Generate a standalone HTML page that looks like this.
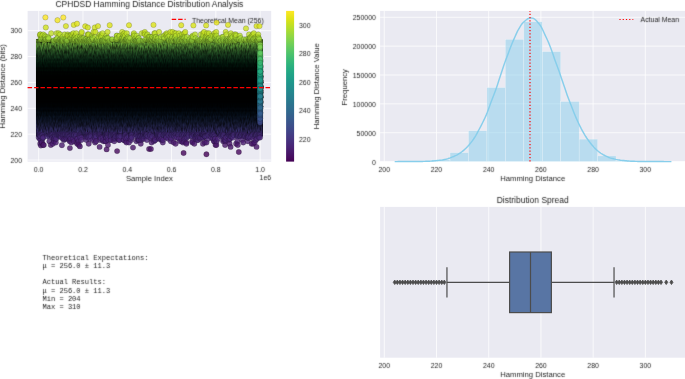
<!DOCTYPE html>
<html><head><meta charset="utf-8"><style>
html,body{margin:0;padding:0;background:#fff;width:685px;height:379px;overflow:hidden}
svg{display:block;will-change:transform}

</style></head><body>
<svg width="685" height="379" viewBox="0 0 685 379">
<rect x="27.6" y="10.9" width="243.6" height="150.8" fill="#eaeaf2"/>
<line x1="38.67" y1="10.9" x2="38.67" y2="161.7" stroke="#fff" stroke-width="0.75"/>
<line x1="82.96" y1="10.9" x2="82.96" y2="161.7" stroke="#fff" stroke-width="0.75"/>
<line x1="127.25" y1="10.9" x2="127.25" y2="161.7" stroke="#fff" stroke-width="0.75"/>
<line x1="171.55" y1="10.9" x2="171.55" y2="161.7" stroke="#fff" stroke-width="0.75"/>
<line x1="215.84" y1="10.9" x2="215.84" y2="161.7" stroke="#fff" stroke-width="0.75"/>
<line x1="260.13" y1="10.9" x2="260.13" y2="161.7" stroke="#fff" stroke-width="0.75"/>
<line x1="27.6" y1="160.02" x2="271.2" y2="160.02" stroke="#fff" stroke-width="0.75"/>
<line x1="27.6" y1="134.15" x2="271.2" y2="134.15" stroke="#fff" stroke-width="0.75"/>
<line x1="27.6" y1="108.29" x2="271.2" y2="108.29" stroke="#fff" stroke-width="0.75"/>
<line x1="27.6" y1="82.42" x2="271.2" y2="82.42" stroke="#fff" stroke-width="0.75"/>
<line x1="27.6" y1="56.55" x2="271.2" y2="56.55" stroke="#fff" stroke-width="0.75"/>
<line x1="27.6" y1="30.69" x2="271.2" y2="30.69" stroke="#fff" stroke-width="0.75"/>
<defs><linearGradient id="core" x1="0" y1="0" x2="0" y2="1"><stop offset="0.0050" stop-color="#000000" stop-opacity="0.017"/><stop offset="0.0150" stop-color="#5d8929" stop-opacity="0.631"/><stop offset="0.0250" stop-color="#68992e" stop-opacity="0.956"/><stop offset="0.0350" stop-color="#699b30" stop-opacity="0.997"/><stop offset="0.0450" stop-color="#5e8d2c" stop-opacity="1.000"/><stop offset="0.0550" stop-color="#51812f" stop-opacity="1.000"/><stop offset="0.0650" stop-color="#4c7929" stop-opacity="1.000"/><stop offset="0.0750" stop-color="#436f27" stop-opacity="1.000"/><stop offset="0.0850" stop-color="#3c6626" stop-opacity="1.000"/><stop offset="0.0950" stop-color="#355e24" stop-opacity="1.000"/><stop offset="0.1050" stop-color="#2e5522" stop-opacity="1.000"/><stop offset="0.1150" stop-color="#2a4f20" stop-opacity="1.000"/><stop offset="0.1250" stop-color="#24481e" stop-opacity="1.000"/><stop offset="0.1350" stop-color="#1f401c" stop-opacity="1.000"/><stop offset="0.1450" stop-color="#1b3b1a" stop-opacity="1.000"/><stop offset="0.1550" stop-color="#18381a" stop-opacity="1.000"/><stop offset="0.1650" stop-color="#153218" stop-opacity="1.000"/><stop offset="0.1750" stop-color="#112c15" stop-opacity="1.000"/><stop offset="0.1850" stop-color="#0f2914" stop-opacity="1.000"/><stop offset="0.1950" stop-color="#0d2814" stop-opacity="1.000"/><stop offset="0.2050" stop-color="#0b2312" stop-opacity="1.000"/><stop offset="0.2150" stop-color="#071d0f" stop-opacity="1.000"/><stop offset="0.2250" stop-color="#061b0e" stop-opacity="1.000"/><stop offset="0.2350" stop-color="#061b0e" stop-opacity="1.000"/><stop offset="0.2450" stop-color="#04170c" stop-opacity="1.000"/><stop offset="0.2550" stop-color="#021209" stop-opacity="1.000"/><stop offset="0.2650" stop-color="#010f08" stop-opacity="1.000"/><stop offset="0.2750" stop-color="#010f08" stop-opacity="1.000"/><stop offset="0.2850" stop-color="#010e08" stop-opacity="1.000"/><stop offset="0.2950" stop-color="#000904" stop-opacity="1.000"/><stop offset="0.3050" stop-color="#000602" stop-opacity="1.000"/><stop offset="0.3150" stop-color="#000604" stop-opacity="1.000"/><stop offset="0.3250" stop-color="#000703" stop-opacity="1.000"/><stop offset="0.3350" stop-color="#000302" stop-opacity="1.000"/><stop offset="0.3450" stop-color="#000201" stop-opacity="1.000"/><stop offset="0.3550" stop-color="#000301" stop-opacity="1.000"/><stop offset="0.3650" stop-color="#000201" stop-opacity="1.000"/><stop offset="0.3750" stop-color="#000101" stop-opacity="1.000"/><stop offset="0.3850" stop-color="#000100" stop-opacity="1.000"/><stop offset="0.3950" stop-color="#000100" stop-opacity="1.000"/><stop offset="0.4050" stop-color="#000100" stop-opacity="1.000"/><stop offset="0.4150" stop-color="#000000" stop-opacity="1.000"/><stop offset="0.4250" stop-color="#000000" stop-opacity="1.000"/><stop offset="0.4350" stop-color="#000000" stop-opacity="1.000"/><stop offset="0.4450" stop-color="#000000" stop-opacity="1.000"/><stop offset="0.4550" stop-color="#000000" stop-opacity="1.000"/><stop offset="0.4650" stop-color="#000000" stop-opacity="1.000"/><stop offset="0.4750" stop-color="#000000" stop-opacity="1.000"/><stop offset="0.4850" stop-color="#000000" stop-opacity="1.000"/><stop offset="0.4950" stop-color="#000000" stop-opacity="1.000"/><stop offset="0.5050" stop-color="#000000" stop-opacity="1.000"/><stop offset="0.5150" stop-color="#000000" stop-opacity="1.000"/><stop offset="0.5250" stop-color="#000000" stop-opacity="1.000"/><stop offset="0.5350" stop-color="#000000" stop-opacity="1.000"/><stop offset="0.5450" stop-color="#000000" stop-opacity="1.000"/><stop offset="0.5550" stop-color="#000000" stop-opacity="1.000"/><stop offset="0.5650" stop-color="#000000" stop-opacity="1.000"/><stop offset="0.5750" stop-color="#000000" stop-opacity="1.000"/><stop offset="0.5850" stop-color="#000000" stop-opacity="1.000"/><stop offset="0.5950" stop-color="#000000" stop-opacity="1.000"/><stop offset="0.6050" stop-color="#000000" stop-opacity="1.000"/><stop offset="0.6150" stop-color="#000001" stop-opacity="1.000"/><stop offset="0.6250" stop-color="#000101" stop-opacity="1.000"/><stop offset="0.6350" stop-color="#000001" stop-opacity="1.000"/><stop offset="0.6450" stop-color="#000101" stop-opacity="1.000"/><stop offset="0.6550" stop-color="#000103" stop-opacity="1.000"/><stop offset="0.6650" stop-color="#000203" stop-opacity="1.000"/><stop offset="0.6750" stop-color="#000203" stop-opacity="1.000"/><stop offset="0.6850" stop-color="#000204" stop-opacity="1.000"/><stop offset="0.6950" stop-color="#000306" stop-opacity="1.000"/><stop offset="0.7050" stop-color="#010509" stop-opacity="1.000"/><stop offset="0.7150" stop-color="#010509" stop-opacity="1.000"/><stop offset="0.7250" stop-color="#000409" stop-opacity="1.000"/><stop offset="0.7350" stop-color="#02060b" stop-opacity="1.000"/><stop offset="0.7450" stop-color="#030910" stop-opacity="1.000"/><stop offset="0.7550" stop-color="#030910" stop-opacity="1.000"/><stop offset="0.7650" stop-color="#030911" stop-opacity="1.000"/><stop offset="0.7750" stop-color="#050a13" stop-opacity="1.000"/><stop offset="0.7850" stop-color="#070e18" stop-opacity="1.000"/><stop offset="0.7950" stop-color="#080e1a" stop-opacity="1.000"/><stop offset="0.8050" stop-color="#080e1a" stop-opacity="1.000"/><stop offset="0.8150" stop-color="#0a0f1c" stop-opacity="1.000"/><stop offset="0.8250" stop-color="#0c1121" stop-opacity="1.000"/><stop offset="0.8350" stop-color="#0e1324" stop-opacity="1.000"/><stop offset="0.8450" stop-color="#0f1325" stop-opacity="1.000"/><stop offset="0.8550" stop-color="#111428" stop-opacity="1.000"/><stop offset="0.8650" stop-color="#13162c" stop-opacity="1.000"/><stop offset="0.8750" stop-color="#161730" stop-opacity="1.000"/><stop offset="0.8850" stop-color="#181833" stop-opacity="1.000"/><stop offset="0.8950" stop-color="#1b1a38" stop-opacity="1.000"/><stop offset="0.9050" stop-color="#1e1c3d" stop-opacity="1.000"/><stop offset="0.9150" stop-color="#211d42" stop-opacity="1.000"/><stop offset="0.9250" stop-color="#241e47" stop-opacity="1.000"/><stop offset="0.9350" stop-color="#271f4b" stop-opacity="1.000"/><stop offset="0.9450" stop-color="#2b204f" stop-opacity="1.000"/><stop offset="0.9550" stop-color="#2f2357" stop-opacity="1.000"/><stop offset="0.9650" stop-color="#31235a" stop-opacity="0.997"/><stop offset="0.9750" stop-color="#33245d" stop-opacity="0.928"/><stop offset="0.9850" stop-color="#231941" stop-opacity="0.368"/><stop offset="0.9950" stop-color="#0f0a1c" stop-opacity="0.040"/></linearGradient>
<linearGradient id="cbar" x1="0" y1="0" x2="0" y2="1"><stop offset="0.0000" stop-color="#fde725"/><stop offset="0.0156" stop-color="#f6e620"/><stop offset="0.0312" stop-color="#ece51b"/><stop offset="0.0469" stop-color="#e2e418"/><stop offset="0.0625" stop-color="#d8e219"/><stop offset="0.0781" stop-color="#cde11d"/><stop offset="0.0938" stop-color="#c2df23"/><stop offset="0.1094" stop-color="#b8de29"/><stop offset="0.1250" stop-color="#addc30"/><stop offset="0.1406" stop-color="#a2da37"/><stop offset="0.1562" stop-color="#98d83e"/><stop offset="0.1719" stop-color="#8ed645"/><stop offset="0.1875" stop-color="#84d44b"/><stop offset="0.2031" stop-color="#7ad151"/><stop offset="0.2188" stop-color="#70cf57"/><stop offset="0.2344" stop-color="#67cc5c"/><stop offset="0.2500" stop-color="#5ec962"/><stop offset="0.2656" stop-color="#56c667"/><stop offset="0.2812" stop-color="#4ec36b"/><stop offset="0.2969" stop-color="#46c06f"/><stop offset="0.3125" stop-color="#3fbc73"/><stop offset="0.3281" stop-color="#38b977"/><stop offset="0.3438" stop-color="#32b67a"/><stop offset="0.3594" stop-color="#2db27d"/><stop offset="0.3750" stop-color="#28ae80"/><stop offset="0.3906" stop-color="#25ab82"/><stop offset="0.4062" stop-color="#22a785"/><stop offset="0.4219" stop-color="#20a386"/><stop offset="0.4375" stop-color="#1fa088"/><stop offset="0.4531" stop-color="#1e9c89"/><stop offset="0.4688" stop-color="#1f988b"/><stop offset="0.4844" stop-color="#1f948c"/><stop offset="0.5000" stop-color="#21918c"/><stop offset="0.5156" stop-color="#228d8d"/><stop offset="0.5312" stop-color="#23898e"/><stop offset="0.5469" stop-color="#25858e"/><stop offset="0.5625" stop-color="#26828e"/><stop offset="0.5781" stop-color="#277e8e"/><stop offset="0.5938" stop-color="#297a8e"/><stop offset="0.6094" stop-color="#2a768e"/><stop offset="0.6250" stop-color="#2c728e"/><stop offset="0.6406" stop-color="#2e6f8e"/><stop offset="0.6562" stop-color="#2f6b8e"/><stop offset="0.6719" stop-color="#31678e"/><stop offset="0.6875" stop-color="#33638d"/><stop offset="0.7031" stop-color="#355f8d"/><stop offset="0.7188" stop-color="#375b8d"/><stop offset="0.7344" stop-color="#39568c"/><stop offset="0.7500" stop-color="#3b528b"/><stop offset="0.7656" stop-color="#3d4e8a"/><stop offset="0.7812" stop-color="#3e4989"/><stop offset="0.7969" stop-color="#404588"/><stop offset="0.8125" stop-color="#424086"/><stop offset="0.8281" stop-color="#443b84"/><stop offset="0.8438" stop-color="#453781"/><stop offset="0.8594" stop-color="#46327e"/><stop offset="0.8750" stop-color="#472d7b"/><stop offset="0.8906" stop-color="#482878"/><stop offset="0.9062" stop-color="#482374"/><stop offset="0.9219" stop-color="#481d6f"/><stop offset="0.9375" stop-color="#48186a"/><stop offset="0.9531" stop-color="#471365"/><stop offset="0.9688" stop-color="#470d60"/><stop offset="0.9844" stop-color="#46075a"/><stop offset="1.0000" stop-color="#440154"/></linearGradient><filter id="tb" filterUnits="userSpaceOnUse" x="0" y="0" width="685" height="379"><feConvolveMatrix order="3" kernelMatrix="0.0113 0.0838 0.0113 0.0838 0.6193 0.0838 0.0113 0.0838 0.0113" divisor="1" edgeMode="none"/></filter></defs>
<filter id="tex" filterUnits="userSpaceOnUse" x="35.98" y="38" width="226.66" height="100" color-interpolation-filters="sRGB"><feTurbulence type="fractalNoise" baseFrequency="0.8 0.22" numOctaves="2" seed="7" result="n"/><feColorMatrix in="n" type="matrix" values="1 0 0 0 0 1 0 0 0 0 1 0 0 0 0 0 0 0 0 1" result="g"/><feComposite in="SourceGraphic" in2="g" operator="arithmetic" k1="1.6" k2="0.19999999999999996" k3="0" k4="0"/></filter>
<rect x="35.98" y="38" width="226.66" height="100" fill="url(#core)" filter="url(#tex)"/>
<line x1="171.7" y1="19.4" x2="185.6" y2="19.4" stroke="#ff0000" stroke-width="1.215" stroke-dasharray="4.49 1.94"/>
<g font-family="Liberation Sans, sans-serif" fill="#262626" filter="url(#tb)"><text x="192" y="22.75" font-size="6.94" text-anchor="start">Theoretical Mean (256)</text></g>
<g fill-opacity="0.8" stroke="#000" stroke-width="0.21" stroke-opacity="0.8"><circle cx="38.71" cy="137.52" r="2.69" fill="#482878"/><circle cx="39.48" cy="135.02" r="2.69" fill="#472e7c"/><circle cx="39.56" cy="135.02" r="2.69" fill="#472e7c"/><circle cx="39.81" cy="138.76" r="2.69" fill="#482576"/><circle cx="40.05" cy="34.48" r="2.69" fill="#bade28"/><circle cx="40.17" cy="135.02" r="2.69" fill="#472e7c"/><circle cx="40.19" cy="136.27" r="2.69" fill="#472c7a"/><circle cx="40.21" cy="143.76" r="2.69" fill="#48186a"/><circle cx="40.24" cy="35.72" r="2.69" fill="#b5de2b"/><circle cx="40.37" cy="34.48" r="2.69" fill="#bade28"/><circle cx="40.46" cy="39.42" r="2.69" fill="#a0da39"/><circle cx="40.54" cy="140.01" r="2.69" fill="#482374"/><circle cx="40.83" cy="136.27" r="2.69" fill="#472c7a"/><circle cx="40.9" cy="145.5" r="2.69" fill="#481a6c"/><circle cx="41.25" cy="39.42" r="2.69" fill="#a0da39"/><circle cx="41.55" cy="39.42" r="2.69" fill="#a0da39"/><circle cx="41.81" cy="142.51" r="2.69" fill="#481c6e"/><circle cx="41.89" cy="142.51" r="2.69" fill="#481c6e"/><circle cx="41.99" cy="35.72" r="2.69" fill="#b5de2b"/><circle cx="42.29" cy="135.02" r="2.69" fill="#472e7c"/><circle cx="42.6" cy="138.76" r="2.69" fill="#482576"/><circle cx="42.79" cy="137.52" r="2.69" fill="#482878"/><circle cx="43.14" cy="145" r="2.69" fill="#481668"/><circle cx="43.15" cy="137.52" r="2.69" fill="#482878"/><circle cx="43.3" cy="34.48" r="2.69" fill="#bade28"/><circle cx="43.31" cy="39.42" r="2.69" fill="#a0da39"/><circle cx="43.8" cy="145" r="2.69" fill="#481668"/><circle cx="44.54" cy="40.66" r="2.69" fill="#9bd93c"/><circle cx="44.82" cy="35.72" r="2.69" fill="#b5de2b"/><circle cx="44.85" cy="39.42" r="2.69" fill="#a0da39"/><circle cx="44.86" cy="40.66" r="2.69" fill="#9bd93c"/><circle cx="44.92" cy="38.19" r="2.69" fill="#a8db34"/><circle cx="45.29" cy="36.95" r="2.69" fill="#addc30"/><circle cx="45.4" cy="39.42" r="2.69" fill="#a0da39"/><circle cx="45.4" cy="17.4" r="2.69" fill="#fde725"/><circle cx="45.8" cy="27.5" r="2.69" fill="#d0e11c"/><circle cx="45.84" cy="39.42" r="2.69" fill="#a0da39"/><circle cx="46.53" cy="39.42" r="2.69" fill="#a0da39"/><circle cx="47.16" cy="136.27" r="2.69" fill="#472c7a"/><circle cx="47.96" cy="36.95" r="2.69" fill="#addc30"/><circle cx="47.99" cy="39.42" r="2.69" fill="#a0da39"/><circle cx="48.55" cy="39.42" r="2.69" fill="#a0da39"/><circle cx="48.66" cy="38.19" r="2.69" fill="#a8db34"/><circle cx="49.39" cy="141.26" r="2.69" fill="#481f70"/><circle cx="49.56" cy="136.27" r="2.69" fill="#472c7a"/><circle cx="50.22" cy="135.02" r="2.69" fill="#472e7c"/><circle cx="50.84" cy="145" r="2.69" fill="#481668"/><circle cx="51.18" cy="33.25" r="2.69" fill="#c0df25"/><circle cx="51.18" cy="135.02" r="2.69" fill="#472e7c"/><circle cx="51.75" cy="135.02" r="2.69" fill="#472e7c"/><circle cx="52.43" cy="135.02" r="2.69" fill="#472e7c"/><circle cx="52.54" cy="137.52" r="2.69" fill="#482878"/><circle cx="52.8" cy="143.8" r="2.69" fill="#481d6f"/><circle cx="53.32" cy="40.66" r="2.69" fill="#9bd93c"/><circle cx="53.75" cy="140.01" r="2.69" fill="#482374"/><circle cx="53.8" cy="40.66" r="2.69" fill="#9bd93c"/><circle cx="53.93" cy="136.27" r="2.69" fill="#472c7a"/><circle cx="54.09" cy="138.76" r="2.69" fill="#482576"/><circle cx="54.14" cy="141.26" r="2.69" fill="#481f70"/><circle cx="54.5" cy="138.76" r="2.69" fill="#482576"/><circle cx="54.98" cy="135.02" r="2.69" fill="#472e7c"/><circle cx="55.47" cy="138.76" r="2.69" fill="#482576"/><circle cx="55.58" cy="136.27" r="2.69" fill="#472c7a"/><circle cx="55.82" cy="142.51" r="2.69" fill="#481c6e"/><circle cx="56.1" cy="39.42" r="2.69" fill="#a0da39"/><circle cx="56.33" cy="138.76" r="2.69" fill="#482576"/><circle cx="56.64" cy="33.25" r="2.69" fill="#c0df25"/><circle cx="56.72" cy="39.42" r="2.69" fill="#a0da39"/><circle cx="57.18" cy="135.02" r="2.69" fill="#472e7c"/><circle cx="57.46" cy="38.19" r="2.69" fill="#a8db34"/><circle cx="57.5" cy="20.2" r="2.69" fill="#f4e61e"/><circle cx="57.9" cy="135.02" r="2.69" fill="#472e7c"/><circle cx="58.6" cy="33.25" r="2.69" fill="#c0df25"/><circle cx="58.63" cy="40.66" r="2.69" fill="#9bd93c"/><circle cx="58.72" cy="135.02" r="2.69" fill="#472e7c"/><circle cx="59.1" cy="135.02" r="2.69" fill="#472e7c"/><circle cx="59.45" cy="40.66" r="2.69" fill="#9bd93c"/><circle cx="59.77" cy="136.27" r="2.69" fill="#472c7a"/><circle cx="59.86" cy="135.02" r="2.69" fill="#472e7c"/><circle cx="59.9" cy="39.42" r="2.69" fill="#a0da39"/><circle cx="60.09" cy="34.48" r="2.69" fill="#bade28"/><circle cx="60.56" cy="136.27" r="2.69" fill="#472c7a"/><circle cx="60.59" cy="39.42" r="2.69" fill="#a0da39"/><circle cx="60.99" cy="136.27" r="2.69" fill="#472c7a"/><circle cx="61.11" cy="135.02" r="2.69" fill="#472e7c"/><circle cx="61.36" cy="40.66" r="2.69" fill="#9bd93c"/><circle cx="61.37" cy="137.52" r="2.69" fill="#482878"/><circle cx="61.79" cy="39.42" r="2.69" fill="#a0da39"/><circle cx="61.9" cy="40.66" r="2.69" fill="#9bd93c"/><circle cx="61.9" cy="145.2" r="2.69" fill="#481b6d"/><circle cx="62.06" cy="40.66" r="2.69" fill="#9bd93c"/><circle cx="62.36" cy="40.66" r="2.69" fill="#9bd93c"/><circle cx="62.63" cy="36.95" r="2.69" fill="#addc30"/><circle cx="62.67" cy="135.02" r="2.69" fill="#472e7c"/><circle cx="62.92" cy="138.76" r="2.69" fill="#482576"/><circle cx="62.97" cy="39.42" r="2.69" fill="#a0da39"/><circle cx="63.06" cy="40.66" r="2.69" fill="#9bd93c"/><circle cx="63.3" cy="17.5" r="2.69" fill="#fde725"/><circle cx="63.38" cy="135.02" r="2.69" fill="#472e7c"/><circle cx="63.89" cy="140.01" r="2.69" fill="#482374"/><circle cx="64.19" cy="138.76" r="2.69" fill="#482576"/><circle cx="64.49" cy="135.02" r="2.69" fill="#472e7c"/><circle cx="64.63" cy="34.48" r="2.69" fill="#bade28"/><circle cx="65" cy="39.42" r="2.69" fill="#a0da39"/><circle cx="65.06" cy="135.02" r="2.69" fill="#472e7c"/><circle cx="65.11" cy="138.76" r="2.69" fill="#482576"/><circle cx="65.87" cy="40.66" r="2.69" fill="#9bd93c"/><circle cx="65.9" cy="26.1" r="2.69" fill="#d8e219"/><circle cx="65.98" cy="39.42" r="2.69" fill="#a0da39"/><circle cx="66.08" cy="137.52" r="2.69" fill="#482878"/><circle cx="66.56" cy="137.52" r="2.69" fill="#482878"/><circle cx="66.61" cy="136.27" r="2.69" fill="#472c7a"/><circle cx="66.69" cy="40.66" r="2.69" fill="#9bd93c"/><circle cx="66.76" cy="138.76" r="2.69" fill="#482576"/><circle cx="66.82" cy="135.02" r="2.69" fill="#472e7c"/><circle cx="67.05" cy="40.66" r="2.69" fill="#9bd93c"/><circle cx="67.5" cy="35.72" r="2.69" fill="#b5de2b"/><circle cx="67.6" cy="34.48" r="2.69" fill="#bade28"/><circle cx="67.8" cy="136.27" r="2.69" fill="#472c7a"/><circle cx="67.88" cy="135.02" r="2.69" fill="#472e7c"/><circle cx="67.9" cy="35.72" r="2.69" fill="#b5de2b"/><circle cx="68.72" cy="138.76" r="2.69" fill="#482576"/><circle cx="69.06" cy="136.27" r="2.69" fill="#472c7a"/><circle cx="69.62" cy="35.72" r="2.69" fill="#b5de2b"/><circle cx="69.64" cy="140.01" r="2.69" fill="#482374"/><circle cx="69.69" cy="141.26" r="2.69" fill="#481f70"/><circle cx="69.9" cy="148.1" r="2.69" fill="#471365"/><circle cx="69.98" cy="136.27" r="2.69" fill="#472c7a"/><circle cx="70.37" cy="138.76" r="2.69" fill="#482576"/><circle cx="70.61" cy="38.19" r="2.69" fill="#a8db34"/><circle cx="70.69" cy="38.19" r="2.69" fill="#a8db34"/><circle cx="70.84" cy="35.72" r="2.69" fill="#b5de2b"/><circle cx="70.93" cy="138.76" r="2.69" fill="#482576"/><circle cx="71.36" cy="142.51" r="2.69" fill="#481c6e"/><circle cx="71.7" cy="34.48" r="2.69" fill="#bade28"/><circle cx="71.72" cy="135.02" r="2.69" fill="#472e7c"/><circle cx="71.84" cy="38.19" r="2.69" fill="#a8db34"/><circle cx="72.52" cy="35.72" r="2.69" fill="#b5de2b"/><circle cx="72.67" cy="40.66" r="2.69" fill="#9bd93c"/><circle cx="72.68" cy="138.76" r="2.69" fill="#482576"/><circle cx="72.78" cy="39.42" r="2.69" fill="#a0da39"/><circle cx="73.31" cy="135.02" r="2.69" fill="#472e7c"/><circle cx="73.42" cy="33.25" r="2.69" fill="#c0df25"/><circle cx="73.58" cy="138.76" r="2.69" fill="#482576"/><circle cx="73.8" cy="24.9" r="2.69" fill="#dde318"/><circle cx="73.91" cy="39.42" r="2.69" fill="#a0da39"/><circle cx="73.95" cy="141.26" r="2.69" fill="#481f70"/><circle cx="74.01" cy="135.02" r="2.69" fill="#472e7c"/><circle cx="74.15" cy="40.66" r="2.69" fill="#9bd93c"/><circle cx="74.16" cy="135.02" r="2.69" fill="#472e7c"/><circle cx="74.23" cy="39.42" r="2.69" fill="#a0da39"/><circle cx="74.47" cy="36.95" r="2.69" fill="#addc30"/><circle cx="74.72" cy="36.95" r="2.69" fill="#addc30"/><circle cx="75.04" cy="39.42" r="2.69" fill="#a0da39"/><circle cx="75.31" cy="35.72" r="2.69" fill="#b5de2b"/><circle cx="75.76" cy="136.27" r="2.69" fill="#472c7a"/><circle cx="75.77" cy="35.72" r="2.69" fill="#b5de2b"/><circle cx="76.04" cy="135.02" r="2.69" fill="#472e7c"/><circle cx="76.24" cy="33.25" r="2.69" fill="#c0df25"/><circle cx="76.58" cy="38.19" r="2.69" fill="#a8db34"/><circle cx="76.82" cy="142.51" r="2.69" fill="#481c6e"/><circle cx="77" cy="23.7" r="2.69" fill="#e2e418"/><circle cx="77.04" cy="138.76" r="2.69" fill="#482576"/><circle cx="77.21" cy="143.76" r="2.69" fill="#48186a"/><circle cx="77.5" cy="40.66" r="2.69" fill="#9bd93c"/><circle cx="77.53" cy="40.66" r="2.69" fill="#9bd93c"/><circle cx="77.62" cy="39.42" r="2.69" fill="#a0da39"/><circle cx="77.71" cy="138.76" r="2.69" fill="#482576"/><circle cx="77.73" cy="36.95" r="2.69" fill="#addc30"/><circle cx="77.99" cy="40.66" r="2.69" fill="#9bd93c"/><circle cx="78.54" cy="40.66" r="2.69" fill="#9bd93c"/><circle cx="78.59" cy="141.26" r="2.69" fill="#481f70"/><circle cx="78.86" cy="145" r="2.69" fill="#481668"/><circle cx="79.55" cy="38.19" r="2.69" fill="#a8db34"/><circle cx="79.62" cy="135.02" r="2.69" fill="#472e7c"/><circle cx="79.82" cy="136.27" r="2.69" fill="#472c7a"/><circle cx="79.9" cy="146.4" r="2.69" fill="#481769"/><circle cx="80.05" cy="137.52" r="2.69" fill="#482878"/><circle cx="80.14" cy="36.95" r="2.69" fill="#addc30"/><circle cx="80.14" cy="40.66" r="2.69" fill="#9bd93c"/><circle cx="80.45" cy="39.42" r="2.69" fill="#a0da39"/><circle cx="80.7" cy="39.42" r="2.69" fill="#a0da39"/><circle cx="81.29" cy="40.66" r="2.69" fill="#9bd93c"/><circle cx="81.38" cy="137.52" r="2.69" fill="#482878"/><circle cx="81.38" cy="140.01" r="2.69" fill="#482374"/><circle cx="81.53" cy="33.25" r="2.69" fill="#c0df25"/><circle cx="81.7" cy="38.19" r="2.69" fill="#a8db34"/><circle cx="81.75" cy="32.01" r="2.69" fill="#c8e020"/><circle cx="81.94" cy="39.42" r="2.69" fill="#a0da39"/><circle cx="83.47" cy="38.19" r="2.69" fill="#a8db34"/><circle cx="83.51" cy="40.66" r="2.69" fill="#9bd93c"/><circle cx="83.85" cy="38.19" r="2.69" fill="#a8db34"/><circle cx="84.51" cy="40.66" r="2.69" fill="#9bd93c"/><circle cx="84.75" cy="39.42" r="2.69" fill="#a0da39"/><circle cx="85.2" cy="26.3" r="2.69" fill="#d8e219"/><circle cx="85.4" cy="40.66" r="2.69" fill="#9bd93c"/><circle cx="85.86" cy="39.42" r="2.69" fill="#a0da39"/><circle cx="86.01" cy="137.52" r="2.69" fill="#482878"/><circle cx="86.15" cy="136.27" r="2.69" fill="#472c7a"/><circle cx="86.33" cy="136.27" r="2.69" fill="#472c7a"/><circle cx="86.42" cy="140.01" r="2.69" fill="#482374"/><circle cx="86.49" cy="39.42" r="2.69" fill="#a0da39"/><circle cx="87.09" cy="40.66" r="2.69" fill="#9bd93c"/><circle cx="87.11" cy="135.02" r="2.69" fill="#472e7c"/><circle cx="87.4" cy="136.27" r="2.69" fill="#472c7a"/><circle cx="87.41" cy="40.66" r="2.69" fill="#9bd93c"/><circle cx="87.8" cy="27.5" r="2.69" fill="#d0e11c"/><circle cx="87.83" cy="34.48" r="2.69" fill="#bade28"/><circle cx="87.9" cy="136.27" r="2.69" fill="#472c7a"/><circle cx="87.93" cy="34.48" r="2.69" fill="#bade28"/><circle cx="87.94" cy="135.02" r="2.69" fill="#472e7c"/><circle cx="88.05" cy="136.27" r="2.69" fill="#472c7a"/><circle cx="88.05" cy="137.52" r="2.69" fill="#482878"/><circle cx="88.48" cy="40.66" r="2.69" fill="#9bd93c"/><circle cx="88.73" cy="143.76" r="2.69" fill="#48186a"/><circle cx="88.83" cy="34.48" r="2.69" fill="#bade28"/><circle cx="88.91" cy="40.66" r="2.69" fill="#9bd93c"/><circle cx="89.13" cy="136.27" r="2.69" fill="#472c7a"/><circle cx="89.24" cy="136.27" r="2.69" fill="#472c7a"/><circle cx="89.5" cy="40.66" r="2.69" fill="#9bd93c"/><circle cx="89.9" cy="39.42" r="2.69" fill="#a0da39"/><circle cx="89.97" cy="138.76" r="2.69" fill="#482576"/><circle cx="90.73" cy="135.02" r="2.69" fill="#472e7c"/><circle cx="90.79" cy="136.27" r="2.69" fill="#472c7a"/><circle cx="90.82" cy="40.66" r="2.69" fill="#9bd93c"/><circle cx="91.78" cy="35.72" r="2.69" fill="#b5de2b"/><circle cx="91.92" cy="36.95" r="2.69" fill="#addc30"/><circle cx="92.05" cy="39.42" r="2.69" fill="#a0da39"/><circle cx="92.48" cy="38.19" r="2.69" fill="#a8db34"/><circle cx="92.67" cy="140.01" r="2.69" fill="#482374"/><circle cx="92.77" cy="38.19" r="2.69" fill="#a8db34"/><circle cx="93.19" cy="39.42" r="2.69" fill="#a0da39"/><circle cx="93.59" cy="32.01" r="2.69" fill="#c8e020"/><circle cx="94.49" cy="137.52" r="2.69" fill="#482878"/><circle cx="94.8" cy="27.5" r="2.69" fill="#d0e11c"/><circle cx="94.95" cy="136.27" r="2.69" fill="#472c7a"/><circle cx="95.08" cy="142.51" r="2.69" fill="#481c6e"/><circle cx="95.28" cy="138.76" r="2.69" fill="#482576"/><circle cx="95.33" cy="36.95" r="2.69" fill="#addc30"/><circle cx="95.36" cy="135.02" r="2.69" fill="#472e7c"/><circle cx="95.39" cy="32.01" r="2.69" fill="#c8e020"/><circle cx="96.1" cy="136.27" r="2.69" fill="#472c7a"/><circle cx="96.11" cy="40.66" r="2.69" fill="#9bd93c"/><circle cx="96.14" cy="141.26" r="2.69" fill="#481f70"/><circle cx="96.73" cy="40.66" r="2.69" fill="#9bd93c"/><circle cx="96.88" cy="40.66" r="2.69" fill="#9bd93c"/><circle cx="97.17" cy="39.42" r="2.69" fill="#a0da39"/><circle cx="98" cy="26.1" r="2.69" fill="#d8e219"/><circle cx="98.58" cy="40.66" r="2.69" fill="#9bd93c"/><circle cx="98.68" cy="36.95" r="2.69" fill="#addc30"/><circle cx="98.82" cy="135.02" r="2.69" fill="#472e7c"/><circle cx="99.6" cy="146.9" r="2.69" fill="#481668"/><circle cx="99.74" cy="135.02" r="2.69" fill="#472e7c"/><circle cx="99.85" cy="136.27" r="2.69" fill="#472c7a"/><circle cx="99.9" cy="40.66" r="2.69" fill="#9bd93c"/><circle cx="99.95" cy="34.48" r="2.69" fill="#bade28"/><circle cx="100.2" cy="140.01" r="2.69" fill="#482374"/><circle cx="100.54" cy="137.52" r="2.69" fill="#482878"/><circle cx="100.9" cy="137.52" r="2.69" fill="#482878"/><circle cx="100.92" cy="35.72" r="2.69" fill="#b5de2b"/><circle cx="100.95" cy="138.76" r="2.69" fill="#482576"/><circle cx="101.03" cy="36.95" r="2.69" fill="#addc30"/><circle cx="101.96" cy="40.66" r="2.69" fill="#9bd93c"/><circle cx="102.16" cy="35.72" r="2.69" fill="#b5de2b"/><circle cx="102.29" cy="40.66" r="2.69" fill="#9bd93c"/><circle cx="102.42" cy="40.66" r="2.69" fill="#9bd93c"/><circle cx="102.62" cy="33.25" r="2.69" fill="#c0df25"/><circle cx="103.01" cy="137.52" r="2.69" fill="#482878"/><circle cx="103.25" cy="40.66" r="2.69" fill="#9bd93c"/><circle cx="103.38" cy="141.26" r="2.69" fill="#481f70"/><circle cx="103.38" cy="140.01" r="2.69" fill="#482374"/><circle cx="104.05" cy="40.66" r="2.69" fill="#9bd93c"/><circle cx="105.02" cy="38.19" r="2.69" fill="#a8db34"/><circle cx="105.23" cy="141.26" r="2.69" fill="#481f70"/><circle cx="105.32" cy="40.66" r="2.69" fill="#9bd93c"/><circle cx="105.59" cy="136.27" r="2.69" fill="#472c7a"/><circle cx="105.67" cy="135.02" r="2.69" fill="#472e7c"/><circle cx="105.88" cy="136.27" r="2.69" fill="#472c7a"/><circle cx="105.89" cy="141.26" r="2.69" fill="#481f70"/><circle cx="106.38" cy="137.52" r="2.69" fill="#482878"/><circle cx="106.38" cy="35.72" r="2.69" fill="#b5de2b"/><circle cx="106.52" cy="136.27" r="2.69" fill="#472c7a"/><circle cx="106.6" cy="149.4" r="2.69" fill="#471063"/><circle cx="106.63" cy="38.19" r="2.69" fill="#a8db34"/><circle cx="106.66" cy="137.52" r="2.69" fill="#482878"/><circle cx="106.84" cy="38.19" r="2.69" fill="#a8db34"/><circle cx="107.29" cy="135.02" r="2.69" fill="#472e7c"/><circle cx="107.31" cy="135.02" r="2.69" fill="#472e7c"/><circle cx="107.6" cy="32.01" r="2.69" fill="#c8e020"/><circle cx="107.61" cy="136.27" r="2.69" fill="#472c7a"/><circle cx="107.95" cy="145" r="2.69" fill="#481668"/><circle cx="108.06" cy="40.66" r="2.69" fill="#9bd93c"/><circle cx="108.07" cy="38.19" r="2.69" fill="#a8db34"/><circle cx="108.22" cy="137.52" r="2.69" fill="#482878"/><circle cx="108.35" cy="140.01" r="2.69" fill="#482374"/><circle cx="109.62" cy="40.66" r="2.69" fill="#9bd93c"/><circle cx="109.7" cy="25.2" r="2.69" fill="#dde318"/><circle cx="110.3" cy="136.27" r="2.69" fill="#472c7a"/><circle cx="110.71" cy="140.01" r="2.69" fill="#482374"/><circle cx="110.95" cy="135.02" r="2.69" fill="#472e7c"/><circle cx="110.96" cy="140.01" r="2.69" fill="#482374"/><circle cx="111.04" cy="136.27" r="2.69" fill="#472c7a"/><circle cx="111.16" cy="135.02" r="2.69" fill="#472e7c"/><circle cx="111.92" cy="39.42" r="2.69" fill="#a0da39"/><circle cx="112.38" cy="39.42" r="2.69" fill="#a0da39"/><circle cx="112.83" cy="135.02" r="2.69" fill="#472e7c"/><circle cx="113.41" cy="135.02" r="2.69" fill="#472e7c"/><circle cx="113.85" cy="138.76" r="2.69" fill="#482576"/><circle cx="114.25" cy="141.26" r="2.69" fill="#481f70"/><circle cx="114.34" cy="135.02" r="2.69" fill="#472e7c"/><circle cx="114.69" cy="137.52" r="2.69" fill="#482878"/><circle cx="114.77" cy="135.02" r="2.69" fill="#472e7c"/><circle cx="114.87" cy="138.76" r="2.69" fill="#482576"/><circle cx="115.11" cy="137.52" r="2.69" fill="#482878"/><circle cx="115.52" cy="136.27" r="2.69" fill="#472c7a"/><circle cx="116.01" cy="136.27" r="2.69" fill="#472c7a"/><circle cx="116.45" cy="39.42" r="2.69" fill="#a0da39"/><circle cx="116.59" cy="39.42" r="2.69" fill="#a0da39"/><circle cx="116.72" cy="35.72" r="2.69" fill="#b5de2b"/><circle cx="117.01" cy="35.72" r="2.69" fill="#b5de2b"/><circle cx="117.09" cy="38.19" r="2.69" fill="#a8db34"/><circle cx="117.1" cy="151.1" r="2.69" fill="#460a5d"/><circle cx="117.46" cy="136.27" r="2.69" fill="#472c7a"/><circle cx="117.72" cy="137.52" r="2.69" fill="#482878"/><circle cx="118.44" cy="138.76" r="2.69" fill="#482576"/><circle cx="118.5" cy="136.27" r="2.69" fill="#472c7a"/><circle cx="118.99" cy="140.01" r="2.69" fill="#482374"/><circle cx="119.06" cy="136.27" r="2.69" fill="#472c7a"/><circle cx="119.08" cy="138.76" r="2.69" fill="#482576"/><circle cx="119.23" cy="36.95" r="2.69" fill="#addc30"/><circle cx="119.39" cy="136.27" r="2.69" fill="#472c7a"/><circle cx="119.59" cy="140.01" r="2.69" fill="#482374"/><circle cx="119.65" cy="35.72" r="2.69" fill="#b5de2b"/><circle cx="120.67" cy="136.27" r="2.69" fill="#472c7a"/><circle cx="121.58" cy="38.19" r="2.69" fill="#a8db34"/><circle cx="121.91" cy="39.42" r="2.69" fill="#a0da39"/><circle cx="122.13" cy="32.01" r="2.69" fill="#c8e020"/><circle cx="122.53" cy="38.19" r="2.69" fill="#a8db34"/><circle cx="122.55" cy="40.66" r="2.69" fill="#9bd93c"/><circle cx="122.86" cy="34.48" r="2.69" fill="#bade28"/><circle cx="123.21" cy="40.66" r="2.69" fill="#9bd93c"/><circle cx="123.51" cy="39.42" r="2.69" fill="#a0da39"/><circle cx="123.72" cy="35.72" r="2.69" fill="#b5de2b"/><circle cx="123.76" cy="140.01" r="2.69" fill="#482374"/><circle cx="123.85" cy="140.01" r="2.69" fill="#482374"/><circle cx="124.13" cy="38.19" r="2.69" fill="#a8db34"/><circle cx="124.14" cy="36.95" r="2.69" fill="#addc30"/><circle cx="124.46" cy="136.27" r="2.69" fill="#472c7a"/><circle cx="124.46" cy="33.25" r="2.69" fill="#c0df25"/><circle cx="124.96" cy="135.02" r="2.69" fill="#472e7c"/><circle cx="125.11" cy="137.52" r="2.69" fill="#482878"/><circle cx="125.23" cy="35.72" r="2.69" fill="#b5de2b"/><circle cx="125.49" cy="40.66" r="2.69" fill="#9bd93c"/><circle cx="125.53" cy="135.02" r="2.69" fill="#472e7c"/><circle cx="125.76" cy="141.26" r="2.69" fill="#481f70"/><circle cx="125.94" cy="39.42" r="2.69" fill="#a0da39"/><circle cx="125.99" cy="40.66" r="2.69" fill="#9bd93c"/><circle cx="126.09" cy="138.76" r="2.69" fill="#482576"/><circle cx="126.25" cy="39.42" r="2.69" fill="#a0da39"/><circle cx="126.48" cy="142.51" r="2.69" fill="#481c6e"/><circle cx="126.59" cy="39.42" r="2.69" fill="#a0da39"/><circle cx="126.77" cy="33.25" r="2.69" fill="#c0df25"/><circle cx="126.92" cy="39.42" r="2.69" fill="#a0da39"/><circle cx="127.11" cy="136.27" r="2.69" fill="#472c7a"/><circle cx="127.19" cy="137.52" r="2.69" fill="#482878"/><circle cx="127.27" cy="39.42" r="2.69" fill="#a0da39"/><circle cx="127.81" cy="36.95" r="2.69" fill="#addc30"/><circle cx="128.01" cy="40.66" r="2.69" fill="#9bd93c"/><circle cx="128.67" cy="38.19" r="2.69" fill="#a8db34"/><circle cx="128.72" cy="136.27" r="2.69" fill="#472c7a"/><circle cx="128.99" cy="142.51" r="2.69" fill="#481c6e"/><circle cx="129" cy="25.2" r="2.69" fill="#dde318"/><circle cx="129.09" cy="40.66" r="2.69" fill="#9bd93c"/><circle cx="130.22" cy="38.19" r="2.69" fill="#a8db34"/><circle cx="130.45" cy="138.76" r="2.69" fill="#482576"/><circle cx="131.05" cy="136.27" r="2.69" fill="#472c7a"/><circle cx="131.13" cy="135.02" r="2.69" fill="#472e7c"/><circle cx="131.15" cy="140.01" r="2.69" fill="#482374"/><circle cx="131.42" cy="136.27" r="2.69" fill="#472c7a"/><circle cx="131.62" cy="135.02" r="2.69" fill="#472e7c"/><circle cx="131.72" cy="137.52" r="2.69" fill="#482878"/><circle cx="133" cy="147.6" r="2.69" fill="#481467"/><circle cx="133.25" cy="40.66" r="2.69" fill="#9bd93c"/><circle cx="133.67" cy="34.48" r="2.69" fill="#bade28"/><circle cx="133.76" cy="35.72" r="2.69" fill="#b5de2b"/><circle cx="133.91" cy="33.25" r="2.69" fill="#c0df25"/><circle cx="134.5" cy="35.72" r="2.69" fill="#b5de2b"/><circle cx="135.04" cy="39.42" r="2.69" fill="#a0da39"/><circle cx="135.6" cy="136.27" r="2.69" fill="#472c7a"/><circle cx="135.63" cy="38.19" r="2.69" fill="#a8db34"/><circle cx="135.8" cy="40.66" r="2.69" fill="#9bd93c"/><circle cx="135.9" cy="40.66" r="2.69" fill="#9bd93c"/><circle cx="136.43" cy="141.26" r="2.69" fill="#481f70"/><circle cx="136.56" cy="40.66" r="2.69" fill="#9bd93c"/><circle cx="136.75" cy="135.02" r="2.69" fill="#472e7c"/><circle cx="136.78" cy="35.72" r="2.69" fill="#b5de2b"/><circle cx="137.62" cy="40.66" r="2.69" fill="#9bd93c"/><circle cx="137.82" cy="40.66" r="2.69" fill="#9bd93c"/><circle cx="137.96" cy="136.27" r="2.69" fill="#472c7a"/><circle cx="137.97" cy="140.01" r="2.69" fill="#482374"/><circle cx="138.44" cy="38.19" r="2.69" fill="#a8db34"/><circle cx="138.49" cy="140.01" r="2.69" fill="#482374"/><circle cx="138.76" cy="38.19" r="2.69" fill="#a8db34"/><circle cx="139" cy="136.27" r="2.69" fill="#472c7a"/><circle cx="139.1" cy="40.66" r="2.69" fill="#9bd93c"/><circle cx="139.18" cy="40.66" r="2.69" fill="#9bd93c"/><circle cx="139.27" cy="140.01" r="2.69" fill="#482374"/><circle cx="139.28" cy="140.01" r="2.69" fill="#482374"/><circle cx="140.25" cy="136.27" r="2.69" fill="#472c7a"/><circle cx="140.34" cy="136.27" r="2.69" fill="#472c7a"/><circle cx="140.76" cy="143.76" r="2.69" fill="#48186a"/><circle cx="140.85" cy="136.27" r="2.69" fill="#472c7a"/><circle cx="141.25" cy="140.01" r="2.69" fill="#482374"/><circle cx="141.84" cy="33.25" r="2.69" fill="#c0df25"/><circle cx="141.95" cy="138.76" r="2.69" fill="#482576"/><circle cx="142.33" cy="137.52" r="2.69" fill="#482878"/><circle cx="142.64" cy="136.27" r="2.69" fill="#472c7a"/><circle cx="142.73" cy="136.27" r="2.69" fill="#472c7a"/><circle cx="143.08" cy="40.66" r="2.69" fill="#9bd93c"/><circle cx="143.18" cy="136.27" r="2.69" fill="#472c7a"/><circle cx="143.4" cy="135.02" r="2.69" fill="#472e7c"/><circle cx="143.85" cy="138.76" r="2.69" fill="#482576"/><circle cx="144.3" cy="33.25" r="2.69" fill="#c0df25"/><circle cx="144.36" cy="136.27" r="2.69" fill="#472c7a"/><circle cx="144.8" cy="32.01" r="2.69" fill="#c8e020"/><circle cx="144.93" cy="34.48" r="2.69" fill="#bade28"/><circle cx="145.01" cy="135.02" r="2.69" fill="#472e7c"/><circle cx="145.45" cy="135.02" r="2.69" fill="#472e7c"/><circle cx="145.55" cy="136.27" r="2.69" fill="#472c7a"/><circle cx="145.6" cy="39.42" r="2.69" fill="#a0da39"/><circle cx="146" cy="135.02" r="2.69" fill="#472e7c"/><circle cx="146.41" cy="136.27" r="2.69" fill="#472c7a"/><circle cx="146.52" cy="135.02" r="2.69" fill="#472e7c"/><circle cx="146.67" cy="35.72" r="2.69" fill="#b5de2b"/><circle cx="146.77" cy="135.02" r="2.69" fill="#472e7c"/><circle cx="146.9" cy="140.01" r="2.69" fill="#482374"/><circle cx="147.42" cy="39.42" r="2.69" fill="#a0da39"/><circle cx="147.56" cy="34.48" r="2.69" fill="#bade28"/><circle cx="148.05" cy="136.27" r="2.69" fill="#472c7a"/><circle cx="148.76" cy="40.66" r="2.69" fill="#9bd93c"/><circle cx="148.85" cy="36.95" r="2.69" fill="#addc30"/><circle cx="149.1" cy="149" r="2.69" fill="#471063"/><circle cx="149.12" cy="36.95" r="2.69" fill="#addc30"/><circle cx="149.37" cy="40.66" r="2.69" fill="#9bd93c"/><circle cx="149.58" cy="39.42" r="2.69" fill="#a0da39"/><circle cx="149.79" cy="137.52" r="2.69" fill="#482878"/><circle cx="150.07" cy="135.02" r="2.69" fill="#472e7c"/><circle cx="150.23" cy="36.95" r="2.69" fill="#addc30"/><circle cx="150.61" cy="40.66" r="2.69" fill="#9bd93c"/><circle cx="150.72" cy="39.42" r="2.69" fill="#a0da39"/><circle cx="150.9" cy="149" r="2.69" fill="#471063"/><circle cx="151.32" cy="39.42" r="2.69" fill="#a0da39"/><circle cx="151.32" cy="138.76" r="2.69" fill="#482576"/><circle cx="151.56" cy="142.51" r="2.69" fill="#481c6e"/><circle cx="151.92" cy="39.42" r="2.69" fill="#a0da39"/><circle cx="152.14" cy="36.95" r="2.69" fill="#addc30"/><circle cx="152.22" cy="136.27" r="2.69" fill="#472c7a"/><circle cx="152.36" cy="36.95" r="2.69" fill="#addc30"/><circle cx="152.59" cy="40.66" r="2.69" fill="#9bd93c"/><circle cx="153.44" cy="38.19" r="2.69" fill="#a8db34"/><circle cx="153.5" cy="24.9" r="2.69" fill="#dde318"/><circle cx="153.85" cy="141.26" r="2.69" fill="#481f70"/><circle cx="154.39" cy="40.66" r="2.69" fill="#9bd93c"/><circle cx="154.44" cy="33.25" r="2.69" fill="#c0df25"/><circle cx="154.52" cy="39.42" r="2.69" fill="#a0da39"/><circle cx="154.86" cy="138.76" r="2.69" fill="#482576"/><circle cx="154.95" cy="39.42" r="2.69" fill="#a0da39"/><circle cx="154.98" cy="140.01" r="2.69" fill="#482374"/><circle cx="155.14" cy="33.25" r="2.69" fill="#c0df25"/><circle cx="155.36" cy="140.01" r="2.69" fill="#482374"/><circle cx="155.4" cy="36.95" r="2.69" fill="#addc30"/><circle cx="155.41" cy="39.42" r="2.69" fill="#a0da39"/><circle cx="156.08" cy="36.95" r="2.69" fill="#addc30"/><circle cx="157.12" cy="40.66" r="2.69" fill="#9bd93c"/><circle cx="157.2" cy="137.52" r="2.69" fill="#482878"/><circle cx="157.37" cy="135.02" r="2.69" fill="#472e7c"/><circle cx="157.59" cy="38.19" r="2.69" fill="#a8db34"/><circle cx="157.91" cy="135.02" r="2.69" fill="#472e7c"/><circle cx="158.07" cy="136.27" r="2.69" fill="#472c7a"/><circle cx="158.26" cy="38.19" r="2.69" fill="#a8db34"/><circle cx="158.55" cy="40.66" r="2.69" fill="#9bd93c"/><circle cx="158.77" cy="137.52" r="2.69" fill="#482878"/><circle cx="158.89" cy="136.27" r="2.69" fill="#472c7a"/><circle cx="158.9" cy="135.02" r="2.69" fill="#472e7c"/><circle cx="159.05" cy="32.01" r="2.69" fill="#c8e020"/><circle cx="159.11" cy="137.52" r="2.69" fill="#482878"/><circle cx="159.27" cy="138.76" r="2.69" fill="#482576"/><circle cx="159.97" cy="138.76" r="2.69" fill="#482576"/><circle cx="160.17" cy="135.02" r="2.69" fill="#472e7c"/><circle cx="160.26" cy="136.27" r="2.69" fill="#472c7a"/><circle cx="160.37" cy="135.02" r="2.69" fill="#472e7c"/><circle cx="160.65" cy="40.66" r="2.69" fill="#9bd93c"/><circle cx="161.1" cy="36.95" r="2.69" fill="#addc30"/><circle cx="161.25" cy="140.01" r="2.69" fill="#482374"/><circle cx="161.69" cy="138.76" r="2.69" fill="#482576"/><circle cx="162.83" cy="142.51" r="2.69" fill="#481c6e"/><circle cx="163" cy="140.01" r="2.69" fill="#482374"/><circle cx="163.58" cy="36.95" r="2.69" fill="#addc30"/><circle cx="163.7" cy="135.02" r="2.69" fill="#472e7c"/><circle cx="163.7" cy="135.02" r="2.69" fill="#472e7c"/><circle cx="163.73" cy="35.72" r="2.69" fill="#b5de2b"/><circle cx="164.37" cy="38.19" r="2.69" fill="#a8db34"/><circle cx="165.16" cy="135.02" r="2.69" fill="#472e7c"/><circle cx="165.65" cy="34.48" r="2.69" fill="#bade28"/><circle cx="166.19" cy="135.02" r="2.69" fill="#472e7c"/><circle cx="166.34" cy="35.72" r="2.69" fill="#b5de2b"/><circle cx="166.41" cy="137.52" r="2.69" fill="#482878"/><circle cx="166.44" cy="136.27" r="2.69" fill="#472c7a"/><circle cx="166.55" cy="137.52" r="2.69" fill="#482878"/><circle cx="166.76" cy="33.25" r="2.69" fill="#c0df25"/><circle cx="167.01" cy="36.95" r="2.69" fill="#addc30"/><circle cx="167.6" cy="34.48" r="2.69" fill="#bade28"/><circle cx="168.1" cy="36.95" r="2.69" fill="#addc30"/><circle cx="168.3" cy="138.76" r="2.69" fill="#482576"/><circle cx="168.47" cy="135.02" r="2.69" fill="#472e7c"/><circle cx="168.82" cy="40.66" r="2.69" fill="#9bd93c"/><circle cx="168.99" cy="39.42" r="2.69" fill="#a0da39"/><circle cx="169.08" cy="40.66" r="2.69" fill="#9bd93c"/><circle cx="169.58" cy="35.72" r="2.69" fill="#b5de2b"/><circle cx="170.53" cy="32.01" r="2.69" fill="#c8e020"/><circle cx="170.57" cy="137.52" r="2.69" fill="#482878"/><circle cx="170.82" cy="141.26" r="2.69" fill="#481f70"/><circle cx="171.11" cy="40.66" r="2.69" fill="#9bd93c"/><circle cx="171.45" cy="138.76" r="2.69" fill="#482576"/><circle cx="171.46" cy="39.42" r="2.69" fill="#a0da39"/><circle cx="171.64" cy="135.02" r="2.69" fill="#472e7c"/><circle cx="171.66" cy="40.66" r="2.69" fill="#9bd93c"/><circle cx="171.96" cy="38.19" r="2.69" fill="#a8db34"/><circle cx="172.48" cy="36.95" r="2.69" fill="#addc30"/><circle cx="172.55" cy="32.01" r="2.69" fill="#c8e020"/><circle cx="173.12" cy="40.66" r="2.69" fill="#9bd93c"/><circle cx="173.58" cy="135.02" r="2.69" fill="#472e7c"/><circle cx="173.64" cy="142.51" r="2.69" fill="#481c6e"/><circle cx="174.35" cy="38.19" r="2.69" fill="#a8db34"/><circle cx="174.35" cy="136.27" r="2.69" fill="#472c7a"/><circle cx="174.7" cy="33.25" r="2.69" fill="#c0df25"/><circle cx="174.95" cy="38.19" r="2.69" fill="#a8db34"/><circle cx="175.26" cy="36.95" r="2.69" fill="#addc30"/><circle cx="175.64" cy="143.76" r="2.69" fill="#48186a"/><circle cx="175.71" cy="135.02" r="2.69" fill="#472e7c"/><circle cx="175.73" cy="137.52" r="2.69" fill="#482878"/><circle cx="175.79" cy="40.66" r="2.69" fill="#9bd93c"/><circle cx="175.94" cy="33.25" r="2.69" fill="#c0df25"/><circle cx="176.1" cy="35.72" r="2.69" fill="#b5de2b"/><circle cx="176.13" cy="40.66" r="2.69" fill="#9bd93c"/><circle cx="176.26" cy="40.66" r="2.69" fill="#9bd93c"/><circle cx="176.36" cy="40.66" r="2.69" fill="#9bd93c"/><circle cx="176.6" cy="39.42" r="2.69" fill="#a0da39"/><circle cx="177.19" cy="137.52" r="2.69" fill="#482878"/><circle cx="177.42" cy="40.66" r="2.69" fill="#9bd93c"/><circle cx="178.38" cy="135.02" r="2.69" fill="#472e7c"/><circle cx="178.87" cy="40.66" r="2.69" fill="#9bd93c"/><circle cx="178.89" cy="33.25" r="2.69" fill="#c0df25"/><circle cx="178.96" cy="138.76" r="2.69" fill="#482576"/><circle cx="179.27" cy="40.66" r="2.69" fill="#9bd93c"/><circle cx="179.94" cy="35.72" r="2.69" fill="#b5de2b"/><circle cx="180.21" cy="141.26" r="2.69" fill="#481f70"/><circle cx="180.43" cy="39.42" r="2.69" fill="#a0da39"/><circle cx="181.2" cy="25.2" r="2.69" fill="#dde318"/><circle cx="181.35" cy="138.76" r="2.69" fill="#482576"/><circle cx="181.67" cy="39.42" r="2.69" fill="#a0da39"/><circle cx="181.81" cy="38.19" r="2.69" fill="#a8db34"/><circle cx="181.84" cy="141.26" r="2.69" fill="#481f70"/><circle cx="182" cy="135.02" r="2.69" fill="#472e7c"/><circle cx="182.09" cy="36.95" r="2.69" fill="#addc30"/><circle cx="182.26" cy="34.48" r="2.69" fill="#bade28"/><circle cx="182.45" cy="40.66" r="2.69" fill="#9bd93c"/><circle cx="182.96" cy="142.51" r="2.69" fill="#481c6e"/><circle cx="183.12" cy="36.95" r="2.69" fill="#addc30"/><circle cx="183.6" cy="153" r="2.69" fill="#450559"/><circle cx="183.61" cy="136.27" r="2.69" fill="#472c7a"/><circle cx="183.65" cy="38.19" r="2.69" fill="#a8db34"/><circle cx="183.96" cy="135.02" r="2.69" fill="#472e7c"/><circle cx="184.15" cy="141.26" r="2.69" fill="#481f70"/><circle cx="184.4" cy="33.25" r="2.69" fill="#c0df25"/><circle cx="184.46" cy="36.95" r="2.69" fill="#addc30"/><circle cx="184.52" cy="38.19" r="2.69" fill="#a8db34"/><circle cx="184.65" cy="138.76" r="2.69" fill="#482576"/><circle cx="184.92" cy="40.66" r="2.69" fill="#9bd93c"/><circle cx="185.22" cy="32.01" r="2.69" fill="#c8e020"/><circle cx="185.49" cy="137.52" r="2.69" fill="#482878"/><circle cx="185.82" cy="39.42" r="2.69" fill="#a0da39"/><circle cx="186.23" cy="136.27" r="2.69" fill="#472c7a"/><circle cx="186.31" cy="142.51" r="2.69" fill="#481c6e"/><circle cx="186.39" cy="40.66" r="2.69" fill="#9bd93c"/><circle cx="186.42" cy="143.76" r="2.69" fill="#48186a"/><circle cx="186.66" cy="135.02" r="2.69" fill="#472e7c"/><circle cx="186.98" cy="36.95" r="2.69" fill="#addc30"/><circle cx="187" cy="137.52" r="2.69" fill="#482878"/><circle cx="188.36" cy="136.27" r="2.69" fill="#472c7a"/><circle cx="188.6" cy="135.02" r="2.69" fill="#472e7c"/><circle cx="189.05" cy="40.66" r="2.69" fill="#9bd93c"/><circle cx="189.54" cy="39.42" r="2.69" fill="#a0da39"/><circle cx="191.55" cy="40.66" r="2.69" fill="#9bd93c"/><circle cx="191.56" cy="135.02" r="2.69" fill="#472e7c"/><circle cx="191.65" cy="36.95" r="2.69" fill="#addc30"/><circle cx="191.78" cy="136.27" r="2.69" fill="#472c7a"/><circle cx="192.01" cy="40.66" r="2.69" fill="#9bd93c"/><circle cx="192.14" cy="141.26" r="2.69" fill="#481f70"/><circle cx="192.24" cy="136.27" r="2.69" fill="#472c7a"/><circle cx="192.43" cy="142.51" r="2.69" fill="#481c6e"/><circle cx="192.73" cy="35.72" r="2.69" fill="#b5de2b"/><circle cx="193.21" cy="36.95" r="2.69" fill="#addc30"/><circle cx="193.4" cy="25.4" r="2.69" fill="#dae319"/><circle cx="193.94" cy="135.02" r="2.69" fill="#472e7c"/><circle cx="194.37" cy="143.76" r="2.69" fill="#48186a"/><circle cx="195.04" cy="34.48" r="2.69" fill="#bade28"/><circle cx="195.23" cy="136.27" r="2.69" fill="#472c7a"/><circle cx="195.52" cy="138.76" r="2.69" fill="#482576"/><circle cx="195.57" cy="38.19" r="2.69" fill="#a8db34"/><circle cx="195.64" cy="137.52" r="2.69" fill="#482878"/><circle cx="196.26" cy="136.27" r="2.69" fill="#472c7a"/><circle cx="196.4" cy="137.52" r="2.69" fill="#482878"/><circle cx="196.64" cy="135.02" r="2.69" fill="#472e7c"/><circle cx="196.73" cy="135.02" r="2.69" fill="#472e7c"/><circle cx="197.06" cy="135.02" r="2.69" fill="#472e7c"/><circle cx="197.28" cy="136.27" r="2.69" fill="#472c7a"/><circle cx="197.34" cy="140.01" r="2.69" fill="#482374"/><circle cx="197.61" cy="40.66" r="2.69" fill="#9bd93c"/><circle cx="197.87" cy="39.42" r="2.69" fill="#a0da39"/><circle cx="197.98" cy="137.52" r="2.69" fill="#482878"/><circle cx="198.1" cy="135.02" r="2.69" fill="#472e7c"/><circle cx="198.1" cy="140.01" r="2.69" fill="#482374"/><circle cx="198.6" cy="137.52" r="2.69" fill="#482878"/><circle cx="198.78" cy="40.66" r="2.69" fill="#9bd93c"/><circle cx="199.42" cy="136.27" r="2.69" fill="#472c7a"/><circle cx="199.77" cy="40.66" r="2.69" fill="#9bd93c"/><circle cx="200" cy="137.52" r="2.69" fill="#482878"/><circle cx="200.39" cy="138.76" r="2.69" fill="#482576"/><circle cx="200.4" cy="137.52" r="2.69" fill="#482878"/><circle cx="200.93" cy="34.48" r="2.69" fill="#bade28"/><circle cx="201.51" cy="40.66" r="2.69" fill="#9bd93c"/><circle cx="201.56" cy="137.52" r="2.69" fill="#482878"/><circle cx="201.87" cy="38.19" r="2.69" fill="#a8db34"/><circle cx="201.9" cy="39.42" r="2.69" fill="#a0da39"/><circle cx="202.37" cy="135.02" r="2.69" fill="#472e7c"/><circle cx="202.5" cy="135.02" r="2.69" fill="#472e7c"/><circle cx="202.65" cy="135.02" r="2.69" fill="#472e7c"/><circle cx="202.83" cy="137.52" r="2.69" fill="#482878"/><circle cx="202.89" cy="143.76" r="2.69" fill="#48186a"/><circle cx="202.97" cy="38.19" r="2.69" fill="#a8db34"/><circle cx="203.2" cy="33.25" r="2.69" fill="#c0df25"/><circle cx="203.44" cy="35.72" r="2.69" fill="#b5de2b"/><circle cx="203.55" cy="137.52" r="2.69" fill="#482878"/><circle cx="203.56" cy="135.02" r="2.69" fill="#472e7c"/><circle cx="203.67" cy="135.02" r="2.69" fill="#472e7c"/><circle cx="203.73" cy="135.02" r="2.69" fill="#472e7c"/><circle cx="204.12" cy="32.01" r="2.69" fill="#c8e020"/><circle cx="204.52" cy="135.02" r="2.69" fill="#472e7c"/><circle cx="204.7" cy="40.66" r="2.69" fill="#9bd93c"/><circle cx="204.79" cy="142.51" r="2.69" fill="#481c6e"/><circle cx="204.8" cy="136.27" r="2.69" fill="#472c7a"/><circle cx="204.95" cy="136.27" r="2.69" fill="#472c7a"/><circle cx="205.17" cy="136.27" r="2.69" fill="#472c7a"/><circle cx="205.47" cy="136.27" r="2.69" fill="#472c7a"/><circle cx="205.54" cy="36.95" r="2.69" fill="#addc30"/><circle cx="205.62" cy="39.42" r="2.69" fill="#a0da39"/><circle cx="206.1" cy="25.4" r="2.69" fill="#dae319"/><circle cx="206.34" cy="39.42" r="2.69" fill="#a0da39"/><circle cx="206.36" cy="36.95" r="2.69" fill="#addc30"/><circle cx="206.4" cy="154.3" r="2.69" fill="#440256"/><circle cx="206.49" cy="142.51" r="2.69" fill="#481c6e"/><circle cx="206.67" cy="136.27" r="2.69" fill="#472c7a"/><circle cx="206.95" cy="35.72" r="2.69" fill="#b5de2b"/><circle cx="207.13" cy="40.66" r="2.69" fill="#9bd93c"/><circle cx="207.15" cy="33.25" r="2.69" fill="#c0df25"/><circle cx="208.2" cy="40.66" r="2.69" fill="#9bd93c"/><circle cx="208.24" cy="40.66" r="2.69" fill="#9bd93c"/><circle cx="208.26" cy="39.42" r="2.69" fill="#a0da39"/><circle cx="208.32" cy="138.76" r="2.69" fill="#482576"/><circle cx="208.34" cy="135.02" r="2.69" fill="#472e7c"/><circle cx="208.5" cy="40.66" r="2.69" fill="#9bd93c"/><circle cx="208.54" cy="35.72" r="2.69" fill="#b5de2b"/><circle cx="208.7" cy="38.19" r="2.69" fill="#a8db34"/><circle cx="208.99" cy="33.25" r="2.69" fill="#c0df25"/><circle cx="209.04" cy="39.42" r="2.69" fill="#a0da39"/><circle cx="209.26" cy="38.19" r="2.69" fill="#a8db34"/><circle cx="209.86" cy="40.66" r="2.69" fill="#9bd93c"/><circle cx="210.56" cy="39.42" r="2.69" fill="#a0da39"/><circle cx="210.66" cy="136.27" r="2.69" fill="#472c7a"/><circle cx="210.96" cy="39.42" r="2.69" fill="#a0da39"/><circle cx="211.53" cy="137.52" r="2.69" fill="#482878"/><circle cx="211.64" cy="35.72" r="2.69" fill="#b5de2b"/><circle cx="212.31" cy="135.02" r="2.69" fill="#472e7c"/><circle cx="212.92" cy="138.76" r="2.69" fill="#482576"/><circle cx="213.14" cy="35.72" r="2.69" fill="#b5de2b"/><circle cx="213.56" cy="135.02" r="2.69" fill="#472e7c"/><circle cx="213.97" cy="141.26" r="2.69" fill="#481f70"/><circle cx="214.27" cy="141.26" r="2.69" fill="#481f70"/><circle cx="214.46" cy="33.25" r="2.69" fill="#c0df25"/><circle cx="214.67" cy="136.27" r="2.69" fill="#472c7a"/><circle cx="214.77" cy="35.72" r="2.69" fill="#b5de2b"/><circle cx="215" cy="138.76" r="2.69" fill="#482576"/><circle cx="215.03" cy="36.95" r="2.69" fill="#addc30"/><circle cx="215.1" cy="38.19" r="2.69" fill="#a8db34"/><circle cx="215.26" cy="138.76" r="2.69" fill="#482576"/><circle cx="215.52" cy="145" r="2.69" fill="#481668"/><circle cx="216.18" cy="32.01" r="2.69" fill="#c8e020"/><circle cx="216.27" cy="38.19" r="2.69" fill="#a8db34"/><circle cx="216.39" cy="145" r="2.69" fill="#481668"/><circle cx="216.48" cy="35.72" r="2.69" fill="#b5de2b"/><circle cx="216.6" cy="22.6" r="2.69" fill="#e7e419"/><circle cx="216.63" cy="141.26" r="2.69" fill="#481f70"/><circle cx="216.66" cy="39.42" r="2.69" fill="#a0da39"/><circle cx="216.89" cy="40.66" r="2.69" fill="#9bd93c"/><circle cx="218.02" cy="40.66" r="2.69" fill="#9bd93c"/><circle cx="218.02" cy="138.76" r="2.69" fill="#482576"/><circle cx="219.15" cy="38.19" r="2.69" fill="#a8db34"/><circle cx="220.61" cy="40.66" r="2.69" fill="#9bd93c"/><circle cx="220.72" cy="40.66" r="2.69" fill="#9bd93c"/><circle cx="220.73" cy="136.27" r="2.69" fill="#472c7a"/><circle cx="221.42" cy="135.02" r="2.69" fill="#472e7c"/><circle cx="222.29" cy="36.95" r="2.69" fill="#addc30"/><circle cx="222.71" cy="135.02" r="2.69" fill="#472e7c"/><circle cx="223.03" cy="136.27" r="2.69" fill="#472c7a"/><circle cx="223.06" cy="36.95" r="2.69" fill="#addc30"/><circle cx="223.13" cy="141.26" r="2.69" fill="#481f70"/><circle cx="223.31" cy="39.42" r="2.69" fill="#a0da39"/><circle cx="223.59" cy="40.66" r="2.69" fill="#9bd93c"/><circle cx="223.65" cy="135.02" r="2.69" fill="#472e7c"/><circle cx="223.72" cy="140.01" r="2.69" fill="#482374"/><circle cx="225.08" cy="145" r="2.69" fill="#481668"/><circle cx="225.19" cy="140.01" r="2.69" fill="#482374"/><circle cx="225.28" cy="141.26" r="2.69" fill="#481f70"/><circle cx="225.58" cy="137.52" r="2.69" fill="#482878"/><circle cx="225.6" cy="140.01" r="2.69" fill="#482374"/><circle cx="225.68" cy="32.01" r="2.69" fill="#c8e020"/><circle cx="225.98" cy="40.66" r="2.69" fill="#9bd93c"/><circle cx="226.15" cy="137.52" r="2.69" fill="#482878"/><circle cx="226.25" cy="40.66" r="2.69" fill="#9bd93c"/><circle cx="226.54" cy="34.48" r="2.69" fill="#bade28"/><circle cx="226.94" cy="39.42" r="2.69" fill="#a0da39"/><circle cx="227.64" cy="40.66" r="2.69" fill="#9bd93c"/><circle cx="227.7" cy="136.27" r="2.69" fill="#472c7a"/><circle cx="227.98" cy="40.66" r="2.69" fill="#9bd93c"/><circle cx="228" cy="40.66" r="2.69" fill="#9bd93c"/><circle cx="228" cy="24.9" r="2.69" fill="#dde318"/><circle cx="228.88" cy="140.01" r="2.69" fill="#482374"/><circle cx="229" cy="135.02" r="2.69" fill="#472e7c"/><circle cx="229.55" cy="143.76" r="2.69" fill="#48186a"/><circle cx="229.59" cy="136.27" r="2.69" fill="#472c7a"/><circle cx="229.66" cy="40.66" r="2.69" fill="#9bd93c"/><circle cx="229.82" cy="38.19" r="2.69" fill="#a8db34"/><circle cx="229.98" cy="138.76" r="2.69" fill="#482576"/><circle cx="229.99" cy="138.76" r="2.69" fill="#482576"/><circle cx="230.37" cy="38.19" r="2.69" fill="#a8db34"/><circle cx="230.56" cy="40.66" r="2.69" fill="#9bd93c"/><circle cx="230.6" cy="146.9" r="2.69" fill="#481668"/><circle cx="230.73" cy="135.02" r="2.69" fill="#472e7c"/><circle cx="230.76" cy="136.27" r="2.69" fill="#472c7a"/><circle cx="230.8" cy="33.25" r="2.69" fill="#c0df25"/><circle cx="230.86" cy="39.42" r="2.69" fill="#a0da39"/><circle cx="231.11" cy="136.27" r="2.69" fill="#472c7a"/><circle cx="231.39" cy="35.72" r="2.69" fill="#b5de2b"/><circle cx="231.64" cy="136.27" r="2.69" fill="#472c7a"/><circle cx="231.66" cy="38.19" r="2.69" fill="#a8db34"/><circle cx="232.34" cy="136.27" r="2.69" fill="#472c7a"/><circle cx="232.55" cy="36.95" r="2.69" fill="#addc30"/><circle cx="232.99" cy="135.02" r="2.69" fill="#472e7c"/><circle cx="233.23" cy="137.52" r="2.69" fill="#482878"/><circle cx="233.71" cy="135.02" r="2.69" fill="#472e7c"/><circle cx="234.21" cy="40.66" r="2.69" fill="#9bd93c"/><circle cx="234.68" cy="34.48" r="2.69" fill="#bade28"/><circle cx="235.14" cy="36.95" r="2.69" fill="#addc30"/><circle cx="235.41" cy="40.66" r="2.69" fill="#9bd93c"/><circle cx="235.79" cy="34.48" r="2.69" fill="#bade28"/><circle cx="236.13" cy="143.76" r="2.69" fill="#48186a"/><circle cx="236.15" cy="38.19" r="2.69" fill="#a8db34"/><circle cx="236.22" cy="35.72" r="2.69" fill="#b5de2b"/><circle cx="236.85" cy="135.02" r="2.69" fill="#472e7c"/><circle cx="237.37" cy="136.27" r="2.69" fill="#472c7a"/><circle cx="237.41" cy="39.42" r="2.69" fill="#a0da39"/><circle cx="237.45" cy="141.26" r="2.69" fill="#481f70"/><circle cx="237.78" cy="145" r="2.69" fill="#481668"/><circle cx="237.92" cy="136.27" r="2.69" fill="#472c7a"/><circle cx="238.09" cy="135.02" r="2.69" fill="#472e7c"/><circle cx="238.33" cy="135.02" r="2.69" fill="#472e7c"/><circle cx="238.55" cy="39.42" r="2.69" fill="#a0da39"/><circle cx="238.8" cy="152" r="2.69" fill="#46085c"/><circle cx="239.16" cy="39.42" r="2.69" fill="#a0da39"/><circle cx="239.84" cy="35.72" r="2.69" fill="#b5de2b"/><circle cx="240.18" cy="136.27" r="2.69" fill="#472c7a"/><circle cx="240.51" cy="136.27" r="2.69" fill="#472c7a"/><circle cx="240.56" cy="38.19" r="2.69" fill="#a8db34"/><circle cx="241.11" cy="135.02" r="2.69" fill="#472e7c"/><circle cx="241.37" cy="40.66" r="2.69" fill="#9bd93c"/><circle cx="241.49" cy="135.02" r="2.69" fill="#472e7c"/><circle cx="242.26" cy="140.01" r="2.69" fill="#482374"/><circle cx="243.26" cy="142.51" r="2.69" fill="#481c6e"/><circle cx="243.37" cy="135.02" r="2.69" fill="#472e7c"/><circle cx="243.84" cy="135.02" r="2.69" fill="#472e7c"/><circle cx="243.98" cy="39.42" r="2.69" fill="#a0da39"/><circle cx="244.18" cy="136.27" r="2.69" fill="#472c7a"/><circle cx="245.04" cy="136.27" r="2.69" fill="#472c7a"/><circle cx="245.2" cy="135.02" r="2.69" fill="#472e7c"/><circle cx="245.41" cy="136.27" r="2.69" fill="#472c7a"/><circle cx="246" cy="28.4" r="2.69" fill="#cde11d"/><circle cx="246.14" cy="40.66" r="2.69" fill="#9bd93c"/><circle cx="246.14" cy="39.42" r="2.69" fill="#a0da39"/><circle cx="246.69" cy="137.52" r="2.69" fill="#482878"/><circle cx="247.47" cy="137.52" r="2.69" fill="#482878"/><circle cx="247.62" cy="136.27" r="2.69" fill="#472c7a"/><circle cx="247.77" cy="141.26" r="2.69" fill="#481f70"/><circle cx="248.11" cy="137.52" r="2.69" fill="#482878"/><circle cx="248.23" cy="137.52" r="2.69" fill="#482878"/><circle cx="248.31" cy="137.52" r="2.69" fill="#482878"/><circle cx="248.54" cy="38.19" r="2.69" fill="#a8db34"/><circle cx="248.87" cy="136.27" r="2.69" fill="#472c7a"/><circle cx="249.04" cy="34.48" r="2.69" fill="#bade28"/><circle cx="249.22" cy="39.42" r="2.69" fill="#a0da39"/><circle cx="249.41" cy="39.42" r="2.69" fill="#a0da39"/><circle cx="249.85" cy="38.19" r="2.69" fill="#a8db34"/><circle cx="250.05" cy="40.66" r="2.69" fill="#9bd93c"/><circle cx="250.29" cy="39.42" r="2.69" fill="#a0da39"/><circle cx="250.32" cy="137.52" r="2.69" fill="#482878"/><circle cx="250.56" cy="38.19" r="2.69" fill="#a8db34"/><circle cx="250.81" cy="36.95" r="2.69" fill="#addc30"/><circle cx="251.21" cy="136.27" r="2.69" fill="#472c7a"/><circle cx="251.66" cy="143.76" r="2.69" fill="#48186a"/><circle cx="252.26" cy="35.72" r="2.69" fill="#b5de2b"/><circle cx="252.31" cy="36.95" r="2.69" fill="#addc30"/><circle cx="252.47" cy="135.02" r="2.69" fill="#472e7c"/><circle cx="252.57" cy="40.66" r="2.69" fill="#9bd93c"/><circle cx="252.94" cy="34.48" r="2.69" fill="#bade28"/><circle cx="252.99" cy="39.42" r="2.69" fill="#a0da39"/><circle cx="253.24" cy="143.76" r="2.69" fill="#48186a"/><circle cx="253.44" cy="138.76" r="2.69" fill="#482576"/><circle cx="253.76" cy="39.42" r="2.69" fill="#a0da39"/><circle cx="253.81" cy="33.25" r="2.69" fill="#c0df25"/><circle cx="254.66" cy="142.51" r="2.69" fill="#481c6e"/><circle cx="255.02" cy="136.27" r="2.69" fill="#472c7a"/><circle cx="255.15" cy="38.19" r="2.69" fill="#a8db34"/><circle cx="255.34" cy="135.02" r="2.69" fill="#472e7c"/><circle cx="255.73" cy="140.01" r="2.69" fill="#482374"/><circle cx="255.94" cy="36.95" r="2.69" fill="#addc30"/><circle cx="256.01" cy="135.02" r="2.69" fill="#472e7c"/><circle cx="256.43" cy="135.02" r="2.69" fill="#472e7c"/><circle cx="256.5" cy="26.1" r="2.69" fill="#d8e219"/><circle cx="256.5" cy="146.9" r="2.69" fill="#481668"/><circle cx="256.76" cy="38.19" r="2.69" fill="#a8db34"/><circle cx="257" cy="138.76" r="2.69" fill="#482576"/><circle cx="257.23" cy="40.66" r="2.69" fill="#9bd93c"/><circle cx="257.83" cy="36.95" r="2.69" fill="#addc30"/><circle cx="258.04" cy="40.66" r="2.69" fill="#9bd93c"/><circle cx="258.13" cy="36.95" r="2.69" fill="#addc30"/><circle cx="258.24" cy="34.48" r="2.69" fill="#bade28"/><circle cx="258.43" cy="136.27" r="2.69" fill="#472c7a"/><circle cx="258.62" cy="135.02" r="2.69" fill="#472e7c"/><circle cx="258.72" cy="38.19" r="2.69" fill="#a8db34"/><circle cx="259.01" cy="137.52" r="2.69" fill="#482878"/><circle cx="259.25" cy="39.42" r="2.69" fill="#a0da39"/><circle cx="259.5" cy="26.1" r="2.69" fill="#d8e219"/><circle cx="259.95" cy="108.81" r="2.69" fill="#31678e"/><circle cx="259.95" cy="100.07" r="2.69" fill="#2a778e"/><circle cx="259.95" cy="97.58" r="2.69" fill="#287c8e"/><circle cx="259.95" cy="102.57" r="2.69" fill="#2c728e"/><circle cx="259.95" cy="70.3" r="2.69" fill="#27ad81"/><circle cx="259.95" cy="82.65" r="2.69" fill="#1f978b"/><circle cx="259.95" cy="108.81" r="2.69" fill="#31678e"/><circle cx="259.95" cy="106.31" r="2.69" fill="#2f6c8e"/><circle cx="259.95" cy="72.77" r="2.69" fill="#23a983"/><circle cx="259.95" cy="106.31" r="2.69" fill="#2f6c8e"/><circle cx="259.95" cy="76.48" r="2.69" fill="#1fa287"/><circle cx="259.95" cy="88.84" r="2.69" fill="#228c8d"/><circle cx="259.95" cy="74.01" r="2.69" fill="#22a785"/><circle cx="259.95" cy="113.8" r="2.69" fill="#365d8d"/><circle cx="259.95" cy="86.36" r="2.69" fill="#21918c"/><circle cx="259.95" cy="78.95" r="2.69" fill="#1f9e89"/><circle cx="259.95" cy="102.57" r="2.69" fill="#2c728e"/><circle cx="259.95" cy="106.31" r="2.69" fill="#2f6c8e"/><circle cx="259.95" cy="78.95" r="2.69" fill="#1f9e89"/><circle cx="259.95" cy="113.8" r="2.69" fill="#365d8d"/><circle cx="259.95" cy="98.83" r="2.69" fill="#29798e"/><circle cx="259.95" cy="135.02" r="2.69" fill="#472e7c"/><circle cx="259.95" cy="101.32" r="2.69" fill="#2b758e"/><circle cx="259.96" cy="100.07" r="2.69" fill="#2a778e"/><circle cx="259.96" cy="87.59" r="2.69" fill="#218e8d"/><circle cx="259.96" cy="118.79" r="2.69" fill="#3a538b"/><circle cx="259.96" cy="76.48" r="2.69" fill="#1fa287"/><circle cx="259.96" cy="88.84" r="2.69" fill="#228c8d"/><circle cx="259.96" cy="101.32" r="2.69" fill="#2b758e"/><circle cx="259.96" cy="86.36" r="2.69" fill="#21918c"/><circle cx="259.96" cy="81.42" r="2.69" fill="#1f998a"/><circle cx="259.96" cy="91.34" r="2.69" fill="#24878e"/><circle cx="259.96" cy="66.6" r="2.69" fill="#2fb47c"/><circle cx="259.96" cy="98.83" r="2.69" fill="#29798e"/><circle cx="259.96" cy="82.65" r="2.69" fill="#1f978b"/><circle cx="259.96" cy="83.89" r="2.69" fill="#1f948c"/><circle cx="259.96" cy="90.09" r="2.69" fill="#23898e"/><circle cx="259.96" cy="86.36" r="2.69" fill="#21918c"/><circle cx="259.96" cy="72.77" r="2.69" fill="#23a983"/><circle cx="259.96" cy="77.71" r="2.69" fill="#1fa088"/><circle cx="259.96" cy="98.83" r="2.69" fill="#29798e"/><circle cx="259.96" cy="80.18" r="2.69" fill="#1e9c89"/><circle cx="259.96" cy="85.12" r="2.69" fill="#20928c"/><circle cx="259.96" cy="76.48" r="2.69" fill="#1fa287"/><circle cx="259.96" cy="71.54" r="2.69" fill="#25ab82"/><circle cx="259.96" cy="86.36" r="2.69" fill="#21918c"/><circle cx="259.96" cy="83.89" r="2.69" fill="#1f948c"/><circle cx="259.96" cy="69.07" r="2.69" fill="#29af7f"/><circle cx="259.96" cy="96.33" r="2.69" fill="#277e8e"/><circle cx="259.96" cy="92.59" r="2.69" fill="#25848e"/><circle cx="259.96" cy="93.83" r="2.69" fill="#26828e"/><circle cx="259.96" cy="103.82" r="2.69" fill="#2d718e"/><circle cx="259.96" cy="103.82" r="2.69" fill="#2d718e"/><circle cx="259.96" cy="77.71" r="2.69" fill="#1fa088"/><circle cx="259.96" cy="74.01" r="2.69" fill="#22a785"/><circle cx="259.96" cy="91.34" r="2.69" fill="#24878e"/><circle cx="259.96" cy="85.12" r="2.69" fill="#20928c"/><circle cx="259.96" cy="112.55" r="2.69" fill="#34608d"/><circle cx="259.96" cy="106.31" r="2.69" fill="#2f6c8e"/><circle cx="259.96" cy="75.24" r="2.69" fill="#20a486"/><circle cx="259.96" cy="105.07" r="2.69" fill="#2e6e8e"/><circle cx="259.96" cy="97.58" r="2.69" fill="#287c8e"/><circle cx="259.96" cy="101.32" r="2.69" fill="#2b758e"/><circle cx="259.96" cy="81.42" r="2.69" fill="#1f998a"/><circle cx="259.96" cy="87.59" r="2.69" fill="#218e8d"/><circle cx="259.96" cy="66.6" r="2.69" fill="#2fb47c"/><circle cx="259.96" cy="88.84" r="2.69" fill="#228c8d"/><circle cx="259.96" cy="62.89" r="2.69" fill="#3aba76"/><circle cx="259.97" cy="56.72" r="2.69" fill="#50c46a"/><circle cx="259.97" cy="78.95" r="2.69" fill="#1f9e89"/><circle cx="259.97" cy="102.57" r="2.69" fill="#2c728e"/><circle cx="259.97" cy="80.18" r="2.69" fill="#1e9c89"/><circle cx="259.97" cy="97.58" r="2.69" fill="#287c8e"/><circle cx="259.97" cy="100.07" r="2.69" fill="#2a778e"/><circle cx="259.97" cy="87.59" r="2.69" fill="#218e8d"/><circle cx="259.97" cy="87.59" r="2.69" fill="#218e8d"/><circle cx="259.97" cy="69.07" r="2.69" fill="#29af7f"/><circle cx="259.97" cy="97.58" r="2.69" fill="#287c8e"/><circle cx="259.97" cy="90.09" r="2.69" fill="#23898e"/><circle cx="259.97" cy="120.04" r="2.69" fill="#3c508b"/><circle cx="259.97" cy="106.31" r="2.69" fill="#2f6c8e"/><circle cx="259.97" cy="83.89" r="2.69" fill="#1f948c"/><circle cx="259.97" cy="74.01" r="2.69" fill="#22a785"/><circle cx="259.97" cy="95.08" r="2.69" fill="#26818e"/><circle cx="259.97" cy="97.58" r="2.69" fill="#287c8e"/><circle cx="259.97" cy="83.89" r="2.69" fill="#1f948c"/><circle cx="259.97" cy="87.59" r="2.69" fill="#218e8d"/><circle cx="259.97" cy="97.58" r="2.69" fill="#287c8e"/><circle cx="259.97" cy="74.01" r="2.69" fill="#22a785"/><circle cx="259.97" cy="102.57" r="2.69" fill="#2c728e"/><circle cx="259.97" cy="88.84" r="2.69" fill="#228c8d"/><circle cx="259.97" cy="78.95" r="2.69" fill="#1f9e89"/><circle cx="259.97" cy="85.12" r="2.69" fill="#20928c"/><circle cx="259.97" cy="90.09" r="2.69" fill="#23898e"/><circle cx="259.97" cy="76.48" r="2.69" fill="#1fa287"/><circle cx="259.97" cy="74.01" r="2.69" fill="#22a785"/><circle cx="259.97" cy="92.59" r="2.69" fill="#25848e"/><circle cx="259.97" cy="70.3" r="2.69" fill="#27ad81"/><circle cx="259.97" cy="116.3" r="2.69" fill="#38598c"/><circle cx="259.97" cy="87.59" r="2.69" fill="#218e8d"/><circle cx="259.97" cy="101.32" r="2.69" fill="#2b758e"/><circle cx="259.97" cy="62.89" r="2.69" fill="#3aba76"/><circle cx="259.97" cy="92.59" r="2.69" fill="#25848e"/><circle cx="259.97" cy="65.36" r="2.69" fill="#34b679"/><circle cx="259.97" cy="88.84" r="2.69" fill="#228c8d"/><circle cx="259.97" cy="78.95" r="2.69" fill="#1f9e89"/><circle cx="259.97" cy="75.24" r="2.69" fill="#20a486"/><circle cx="259.97" cy="101.32" r="2.69" fill="#2b758e"/><circle cx="259.97" cy="83.89" r="2.69" fill="#1f948c"/><circle cx="259.97" cy="91.34" r="2.69" fill="#24878e"/><circle cx="259.97" cy="64.13" r="2.69" fill="#37b878"/><circle cx="259.97" cy="97.58" r="2.69" fill="#287c8e"/><circle cx="259.97" cy="82.65" r="2.69" fill="#1f978b"/><circle cx="259.98" cy="88.84" r="2.69" fill="#228c8d"/><circle cx="259.98" cy="81.42" r="2.69" fill="#1f998a"/><circle cx="259.98" cy="86.36" r="2.69" fill="#21918c"/><circle cx="259.98" cy="85.12" r="2.69" fill="#20928c"/><circle cx="259.98" cy="87.59" r="2.69" fill="#218e8d"/><circle cx="259.98" cy="88.84" r="2.69" fill="#228c8d"/><circle cx="259.98" cy="83.89" r="2.69" fill="#1f948c"/><circle cx="259.98" cy="91.34" r="2.69" fill="#24878e"/><circle cx="259.98" cy="78.95" r="2.69" fill="#1f9e89"/><circle cx="259.98" cy="78.95" r="2.69" fill="#1f9e89"/><circle cx="259.98" cy="81.42" r="2.69" fill="#1f998a"/><circle cx="259.98" cy="72.77" r="2.69" fill="#23a983"/><circle cx="259.98" cy="90.09" r="2.69" fill="#23898e"/><circle cx="259.98" cy="112.55" r="2.69" fill="#34608d"/><circle cx="259.98" cy="88.84" r="2.69" fill="#228c8d"/><circle cx="259.98" cy="98.83" r="2.69" fill="#29798e"/><circle cx="259.98" cy="111.31" r="2.69" fill="#33628d"/><circle cx="259.98" cy="105.07" r="2.69" fill="#2e6e8e"/><circle cx="259.98" cy="77.71" r="2.69" fill="#1fa088"/><circle cx="259.98" cy="90.09" r="2.69" fill="#23898e"/><circle cx="259.98" cy="78.95" r="2.69" fill="#1f9e89"/><circle cx="259.98" cy="90.09" r="2.69" fill="#23898e"/><circle cx="259.98" cy="75.24" r="2.69" fill="#20a486"/><circle cx="259.98" cy="96.33" r="2.69" fill="#277e8e"/><circle cx="259.98" cy="106.31" r="2.69" fill="#2f6c8e"/><circle cx="259.98" cy="87.59" r="2.69" fill="#218e8d"/><circle cx="259.98" cy="81.42" r="2.69" fill="#1f998a"/><circle cx="259.98" cy="75.24" r="2.69" fill="#20a486"/><circle cx="259.98" cy="75.24" r="2.69" fill="#20a486"/><circle cx="259.98" cy="78.95" r="2.69" fill="#1f9e89"/><circle cx="259.98" cy="93.83" r="2.69" fill="#26828e"/><circle cx="259.98" cy="76.48" r="2.69" fill="#1fa287"/><circle cx="259.98" cy="87.59" r="2.69" fill="#218e8d"/><circle cx="259.98" cy="56.72" r="2.69" fill="#50c46a"/><circle cx="259.98" cy="85.12" r="2.69" fill="#20928c"/><circle cx="259.98" cy="78.95" r="2.69" fill="#1f9e89"/><circle cx="259.98" cy="91.34" r="2.69" fill="#24878e"/><circle cx="259.98" cy="111.31" r="2.69" fill="#33628d"/><circle cx="259.98" cy="83.89" r="2.69" fill="#1f948c"/><circle cx="259.98" cy="87.59" r="2.69" fill="#218e8d"/><circle cx="259.98" cy="97.58" r="2.69" fill="#287c8e"/><circle cx="259.98" cy="87.59" r="2.69" fill="#218e8d"/><circle cx="259.98" cy="92.59" r="2.69" fill="#25848e"/><circle cx="259.98" cy="93.83" r="2.69" fill="#26828e"/><circle cx="259.98" cy="102.57" r="2.69" fill="#2c728e"/><circle cx="259.99" cy="93.83" r="2.69" fill="#26828e"/><circle cx="259.99" cy="106.31" r="2.69" fill="#2f6c8e"/><circle cx="259.99" cy="65.36" r="2.69" fill="#34b679"/><circle cx="259.99" cy="74.01" r="2.69" fill="#22a785"/><circle cx="259.99" cy="85.12" r="2.69" fill="#20928c"/><circle cx="259.99" cy="100.07" r="2.69" fill="#2a778e"/><circle cx="259.99" cy="75.24" r="2.69" fill="#20a486"/><circle cx="259.99" cy="92.59" r="2.69" fill="#25848e"/><circle cx="259.99" cy="96.33" r="2.69" fill="#277e8e"/><circle cx="259.99" cy="64.13" r="2.69" fill="#37b878"/><circle cx="259.99" cy="88.84" r="2.69" fill="#228c8d"/><circle cx="259.99" cy="75.24" r="2.69" fill="#20a486"/><circle cx="259.99" cy="100.07" r="2.69" fill="#2a778e"/><circle cx="259.99" cy="117.55" r="2.69" fill="#39558c"/><circle cx="259.99" cy="100.07" r="2.69" fill="#2a778e"/><circle cx="259.99" cy="90.09" r="2.69" fill="#23898e"/><circle cx="259.99" cy="74.01" r="2.69" fill="#22a785"/><circle cx="259.99" cy="120.04" r="2.69" fill="#3c508b"/><circle cx="259.99" cy="88.84" r="2.69" fill="#228c8d"/><circle cx="259.99" cy="110.06" r="2.69" fill="#32658e"/><circle cx="259.99" cy="82.65" r="2.69" fill="#1f978b"/><circle cx="259.99" cy="93.83" r="2.69" fill="#26828e"/><circle cx="259.99" cy="65.36" r="2.69" fill="#34b679"/><circle cx="259.99" cy="92.59" r="2.69" fill="#25848e"/><circle cx="259.99" cy="75.24" r="2.69" fill="#20a486"/><circle cx="259.99" cy="82.65" r="2.69" fill="#1f978b"/><circle cx="259.99" cy="86.36" r="2.69" fill="#21918c"/><circle cx="259.99" cy="88.84" r="2.69" fill="#228c8d"/><circle cx="259.99" cy="80.18" r="2.69" fill="#1e9c89"/><circle cx="259.99" cy="107.56" r="2.69" fill="#30698e"/><circle cx="259.99" cy="86.36" r="2.69" fill="#21918c"/><circle cx="259.99" cy="107.56" r="2.69" fill="#30698e"/><circle cx="259.99" cy="69.07" r="2.69" fill="#29af7f"/><circle cx="259.99" cy="64.13" r="2.69" fill="#37b878"/><circle cx="259.99" cy="78.95" r="2.69" fill="#1f9e89"/><circle cx="259.99" cy="64.13" r="2.69" fill="#37b878"/><circle cx="259.99" cy="66.6" r="2.69" fill="#2fb47c"/><circle cx="259.99" cy="76.48" r="2.69" fill="#1fa287"/><circle cx="259.99" cy="97.58" r="2.69" fill="#287c8e"/><circle cx="259.99" cy="83.89" r="2.69" fill="#1f948c"/><circle cx="259.99" cy="97.58" r="2.69" fill="#287c8e"/><circle cx="259.99" cy="93.83" r="2.69" fill="#26828e"/><circle cx="259.99" cy="90.09" r="2.69" fill="#23898e"/><circle cx="259.99" cy="71.54" r="2.69" fill="#25ab82"/><circle cx="259.99" cy="56.72" r="2.69" fill="#50c46a"/><circle cx="260" cy="67.83" r="2.69" fill="#2db27d"/><circle cx="260" cy="92.59" r="2.69" fill="#25848e"/><circle cx="260" cy="71.54" r="2.69" fill="#25ab82"/><circle cx="260" cy="108.81" r="2.69" fill="#31678e"/><circle cx="260" cy="87.59" r="2.69" fill="#218e8d"/><circle cx="260" cy="92.59" r="2.69" fill="#25848e"/><circle cx="260" cy="95.08" r="2.69" fill="#26818e"/><circle cx="260" cy="78.95" r="2.69" fill="#1f9e89"/><circle cx="260" cy="102.57" r="2.69" fill="#2c728e"/><circle cx="260" cy="74.01" r="2.69" fill="#22a785"/><circle cx="260" cy="78.95" r="2.69" fill="#1f9e89"/><circle cx="260" cy="81.42" r="2.69" fill="#1f998a"/><circle cx="260" cy="117.55" r="2.69" fill="#39558c"/><circle cx="260" cy="115.05" r="2.69" fill="#375b8d"/><circle cx="260" cy="85.12" r="2.69" fill="#20928c"/><circle cx="260" cy="75.24" r="2.69" fill="#20a486"/><circle cx="260" cy="106.31" r="2.69" fill="#2f6c8e"/><circle cx="260" cy="85.12" r="2.69" fill="#20928c"/><circle cx="260" cy="78.95" r="2.69" fill="#1f9e89"/><circle cx="260" cy="98.83" r="2.69" fill="#29798e"/><circle cx="260" cy="81.42" r="2.69" fill="#1f998a"/><circle cx="260" cy="97.58" r="2.69" fill="#287c8e"/><circle cx="260" cy="105.07" r="2.69" fill="#2e6e8e"/><circle cx="260" cy="96.33" r="2.69" fill="#277e8e"/><circle cx="260" cy="107.56" r="2.69" fill="#30698e"/><circle cx="260" cy="100.07" r="2.69" fill="#2a778e"/><circle cx="260" cy="76.48" r="2.69" fill="#1fa287"/><circle cx="260" cy="96.33" r="2.69" fill="#277e8e"/><circle cx="260" cy="75.24" r="2.69" fill="#20a486"/><circle cx="260" cy="85.12" r="2.69" fill="#20928c"/><circle cx="260" cy="100.07" r="2.69" fill="#2a778e"/><circle cx="260" cy="82.65" r="2.69" fill="#1f978b"/><circle cx="260" cy="92.59" r="2.69" fill="#25848e"/><circle cx="260" cy="85.12" r="2.69" fill="#20928c"/><circle cx="260" cy="81.42" r="2.69" fill="#1f998a"/><circle cx="260" cy="78.95" r="2.69" fill="#1f9e89"/><circle cx="260" cy="112.55" r="2.69" fill="#34608d"/><circle cx="260" cy="74.01" r="2.69" fill="#22a785"/><circle cx="260" cy="85.12" r="2.69" fill="#20928c"/><circle cx="260" cy="103.82" r="2.69" fill="#2d718e"/><circle cx="260" cy="77.71" r="2.69" fill="#1fa088"/><circle cx="260" cy="76.48" r="2.69" fill="#1fa287"/><circle cx="260" cy="96.33" r="2.69" fill="#277e8e"/><circle cx="260" cy="85.12" r="2.69" fill="#20928c"/><circle cx="260" cy="78.95" r="2.69" fill="#1f9e89"/><circle cx="260.01" cy="115.05" r="2.69" fill="#375b8d"/><circle cx="260.01" cy="96.33" r="2.69" fill="#277e8e"/><circle cx="260.01" cy="98.83" r="2.69" fill="#29798e"/><circle cx="260.01" cy="96.33" r="2.69" fill="#277e8e"/><circle cx="260.01" cy="106.31" r="2.69" fill="#2f6c8e"/><circle cx="260.01" cy="66.6" r="2.69" fill="#2fb47c"/><circle cx="260.01" cy="61.66" r="2.69" fill="#3fbc73"/><circle cx="260.01" cy="85.12" r="2.69" fill="#20928c"/><circle cx="260.01" cy="88.84" r="2.69" fill="#228c8d"/><circle cx="260.01" cy="74.01" r="2.69" fill="#22a785"/><circle cx="260.01" cy="102.57" r="2.69" fill="#2c728e"/><circle cx="260.01" cy="88.84" r="2.69" fill="#228c8d"/><circle cx="260.01" cy="101.32" r="2.69" fill="#2b758e"/><circle cx="260.01" cy="75.24" r="2.69" fill="#20a486"/><circle cx="260.01" cy="95.08" r="2.69" fill="#26818e"/><circle cx="260.01" cy="91.34" r="2.69" fill="#24878e"/><circle cx="260.01" cy="103.82" r="2.69" fill="#2d718e"/><circle cx="260.01" cy="77.71" r="2.69" fill="#1fa088"/><circle cx="260.01" cy="103.82" r="2.69" fill="#2d718e"/><circle cx="260.01" cy="93.83" r="2.69" fill="#26828e"/><circle cx="260.01" cy="80.18" r="2.69" fill="#1e9c89"/><circle cx="260.01" cy="83.89" r="2.69" fill="#1f948c"/><circle cx="260.01" cy="81.42" r="2.69" fill="#1f998a"/><circle cx="260.01" cy="85.12" r="2.69" fill="#20928c"/><circle cx="260.01" cy="80.18" r="2.69" fill="#1e9c89"/><circle cx="260.01" cy="71.54" r="2.69" fill="#25ab82"/><circle cx="260.01" cy="75.24" r="2.69" fill="#20a486"/><circle cx="260.01" cy="75.24" r="2.69" fill="#20a486"/><circle cx="260.01" cy="85.12" r="2.69" fill="#20928c"/><circle cx="260.01" cy="86.36" r="2.69" fill="#21918c"/><circle cx="260.01" cy="101.32" r="2.69" fill="#2b758e"/><circle cx="260.01" cy="77.71" r="2.69" fill="#1fa088"/><circle cx="260.01" cy="108.81" r="2.69" fill="#31678e"/><circle cx="260.01" cy="82.65" r="2.69" fill="#1f978b"/><circle cx="260.01" cy="76.48" r="2.69" fill="#1fa287"/><circle cx="260.01" cy="72.77" r="2.69" fill="#23a983"/><circle cx="260.01" cy="95.08" r="2.69" fill="#26818e"/><circle cx="260.01" cy="85.12" r="2.69" fill="#20928c"/><circle cx="260.01" cy="82.65" r="2.69" fill="#1f978b"/><circle cx="260.01" cy="93.83" r="2.69" fill="#26828e"/><circle cx="260.01" cy="97.58" r="2.69" fill="#287c8e"/><circle cx="260.01" cy="57.95" r="2.69" fill="#4cc26c"/><circle cx="260.01" cy="102.57" r="2.69" fill="#2c728e"/><circle cx="260.01" cy="53.01" r="2.69" fill="#60ca60"/><circle cx="260.01" cy="90.09" r="2.69" fill="#23898e"/><circle cx="260.01" cy="90.09" r="2.69" fill="#23898e"/><circle cx="260.02" cy="82.65" r="2.69" fill="#1f978b"/><circle cx="260.02" cy="106.31" r="2.69" fill="#2f6c8e"/><circle cx="260.02" cy="96.33" r="2.69" fill="#277e8e"/><circle cx="260.02" cy="75.24" r="2.69" fill="#20a486"/><circle cx="260.02" cy="83.89" r="2.69" fill="#1f948c"/><circle cx="260.02" cy="96.33" r="2.69" fill="#277e8e"/><circle cx="260.02" cy="93.83" r="2.69" fill="#26828e"/><circle cx="260.02" cy="102.57" r="2.69" fill="#2c728e"/><circle cx="260.02" cy="83.89" r="2.69" fill="#1f948c"/><circle cx="260.02" cy="106.31" r="2.69" fill="#2f6c8e"/><circle cx="260.02" cy="87.59" r="2.69" fill="#218e8d"/><circle cx="260.02" cy="111.31" r="2.69" fill="#33628d"/><circle cx="260.02" cy="105.07" r="2.69" fill="#2e6e8e"/><circle cx="260.02" cy="86.36" r="2.69" fill="#21918c"/><circle cx="260.02" cy="88.84" r="2.69" fill="#228c8d"/><circle cx="260.02" cy="51.78" r="2.69" fill="#65cb5e"/><circle cx="260.02" cy="106.31" r="2.69" fill="#2f6c8e"/><circle cx="260.02" cy="118.79" r="2.69" fill="#3a538b"/><circle cx="260.02" cy="82.65" r="2.69" fill="#1f978b"/><circle cx="260.02" cy="67.83" r="2.69" fill="#2db27d"/><circle cx="260.02" cy="61.66" r="2.69" fill="#3fbc73"/><circle cx="260.02" cy="101.32" r="2.69" fill="#2b758e"/><circle cx="260.02" cy="61.66" r="2.69" fill="#3fbc73"/><circle cx="260.02" cy="86.36" r="2.69" fill="#21918c"/><circle cx="260.02" cy="77.71" r="2.69" fill="#1fa088"/><circle cx="260.02" cy="86.36" r="2.69" fill="#21918c"/><circle cx="260.02" cy="113.8" r="2.69" fill="#365d8d"/><circle cx="260.02" cy="96.33" r="2.69" fill="#277e8e"/><circle cx="260.02" cy="87.59" r="2.69" fill="#218e8d"/><circle cx="260.02" cy="85.12" r="2.69" fill="#20928c"/><circle cx="260.02" cy="85.12" r="2.69" fill="#20928c"/><circle cx="260.02" cy="96.33" r="2.69" fill="#277e8e"/><circle cx="260.02" cy="87.59" r="2.69" fill="#218e8d"/><circle cx="260.02" cy="70.3" r="2.69" fill="#27ad81"/><circle cx="260.02" cy="82.65" r="2.69" fill="#1f978b"/><circle cx="260.02" cy="87.59" r="2.69" fill="#218e8d"/><circle cx="260.02" cy="66.6" r="2.69" fill="#2fb47c"/><circle cx="260.02" cy="96.33" r="2.69" fill="#277e8e"/><circle cx="260.02" cy="65.36" r="2.69" fill="#34b679"/><circle cx="260.02" cy="101.32" r="2.69" fill="#2b758e"/><circle cx="260.02" cy="95.08" r="2.69" fill="#26818e"/><circle cx="260.02" cy="66.6" r="2.69" fill="#2fb47c"/><circle cx="260.02" cy="75.24" r="2.69" fill="#20a486"/><circle cx="260.02" cy="69.07" r="2.69" fill="#29af7f"/><circle cx="260.02" cy="87.59" r="2.69" fill="#218e8d"/><circle cx="260.03" cy="85.12" r="2.69" fill="#20928c"/><circle cx="260.03" cy="93.83" r="2.69" fill="#26828e"/><circle cx="260.03" cy="72.77" r="2.69" fill="#23a983"/><circle cx="260.03" cy="82.65" r="2.69" fill="#1f978b"/><circle cx="260.03" cy="80.18" r="2.69" fill="#1e9c89"/><circle cx="260.03" cy="91.34" r="2.69" fill="#24878e"/><circle cx="260.03" cy="96.33" r="2.69" fill="#277e8e"/><circle cx="260.03" cy="88.84" r="2.69" fill="#228c8d"/><circle cx="260.03" cy="80.18" r="2.69" fill="#1e9c89"/><circle cx="260.03" cy="100.07" r="2.69" fill="#2a778e"/><circle cx="260.03" cy="97.58" r="2.69" fill="#287c8e"/><circle cx="260.03" cy="100.07" r="2.69" fill="#2a778e"/><circle cx="260.03" cy="100.07" r="2.69" fill="#2a778e"/><circle cx="260.03" cy="100.07" r="2.69" fill="#2a778e"/><circle cx="260.03" cy="76.48" r="2.69" fill="#1fa287"/><circle cx="260.03" cy="59.19" r="2.69" fill="#48c16e"/><circle cx="260.03" cy="80.18" r="2.69" fill="#1e9c89"/><circle cx="260.03" cy="103.82" r="2.69" fill="#2d718e"/><circle cx="260.03" cy="77.71" r="2.69" fill="#1fa088"/><circle cx="260.03" cy="76.48" r="2.69" fill="#1fa287"/><circle cx="260.03" cy="90.09" r="2.69" fill="#23898e"/><circle cx="260.03" cy="110.06" r="2.69" fill="#32658e"/><circle cx="260.03" cy="88.84" r="2.69" fill="#228c8d"/><circle cx="260.03" cy="87.59" r="2.69" fill="#218e8d"/><circle cx="260.03" cy="92.59" r="2.69" fill="#25848e"/><circle cx="260.03" cy="80.18" r="2.69" fill="#1e9c89"/><circle cx="260.03" cy="90.09" r="2.69" fill="#23898e"/><circle cx="260.03" cy="106.31" r="2.69" fill="#2f6c8e"/><circle cx="260.03" cy="75.24" r="2.69" fill="#20a486"/><circle cx="260.03" cy="115.05" r="2.69" fill="#375b8d"/><circle cx="260.03" cy="106.31" r="2.69" fill="#2f6c8e"/><circle cx="260.03" cy="98.83" r="2.69" fill="#29798e"/><circle cx="260.03" cy="92.59" r="2.69" fill="#25848e"/><circle cx="260.03" cy="87.59" r="2.69" fill="#218e8d"/><circle cx="260.03" cy="87.59" r="2.69" fill="#218e8d"/><circle cx="260.03" cy="81.42" r="2.69" fill="#1f998a"/><circle cx="260.03" cy="90.09" r="2.69" fill="#23898e"/><circle cx="260.03" cy="98.83" r="2.69" fill="#29798e"/><circle cx="260.03" cy="76.48" r="2.69" fill="#1fa287"/><circle cx="260.03" cy="93.83" r="2.69" fill="#26828e"/><circle cx="260.03" cy="56.72" r="2.69" fill="#50c46a"/><circle cx="260.03" cy="102.57" r="2.69" fill="#2c728e"/><circle cx="260.03" cy="59.19" r="2.69" fill="#48c16e"/><circle cx="260.03" cy="80.18" r="2.69" fill="#1e9c89"/><circle cx="260.03" cy="82.65" r="2.69" fill="#1f978b"/><circle cx="260.04" cy="97.58" r="2.69" fill="#287c8e"/><circle cx="260.04" cy="86.36" r="2.69" fill="#21918c"/><circle cx="260.04" cy="59.19" r="2.69" fill="#48c16e"/><circle cx="260.04" cy="62.89" r="2.69" fill="#3aba76"/><circle cx="260.04" cy="88.84" r="2.69" fill="#228c8d"/><circle cx="260.04" cy="66.6" r="2.69" fill="#2fb47c"/><circle cx="260.04" cy="85.12" r="2.69" fill="#20928c"/><circle cx="260.04" cy="93.83" r="2.69" fill="#26828e"/><circle cx="260.04" cy="90.09" r="2.69" fill="#23898e"/><circle cx="260.04" cy="90.09" r="2.69" fill="#23898e"/><circle cx="260.04" cy="78.95" r="2.69" fill="#1f9e89"/><circle cx="260.04" cy="87.59" r="2.69" fill="#218e8d"/><circle cx="260.04" cy="78.95" r="2.69" fill="#1f9e89"/><circle cx="260.04" cy="88.84" r="2.69" fill="#228c8d"/><circle cx="260.04" cy="92.59" r="2.69" fill="#25848e"/><circle cx="260.04" cy="81.42" r="2.69" fill="#1f998a"/><circle cx="260.04" cy="76.48" r="2.69" fill="#1fa287"/><circle cx="260.04" cy="75.24" r="2.69" fill="#20a486"/><circle cx="260.04" cy="87.59" r="2.69" fill="#218e8d"/><circle cx="260.04" cy="87.59" r="2.69" fill="#218e8d"/><circle cx="260.04" cy="76.48" r="2.69" fill="#1fa287"/><circle cx="260.04" cy="82.65" r="2.69" fill="#1f978b"/><circle cx="260.04" cy="66.6" r="2.69" fill="#2fb47c"/><circle cx="260.04" cy="67.83" r="2.69" fill="#2db27d"/><circle cx="260.04" cy="90.09" r="2.69" fill="#23898e"/><circle cx="260.04" cy="97.58" r="2.69" fill="#287c8e"/><circle cx="260.04" cy="69.07" r="2.69" fill="#29af7f"/><circle cx="260.04" cy="86.36" r="2.69" fill="#21918c"/><circle cx="260.04" cy="92.59" r="2.69" fill="#25848e"/><circle cx="260.04" cy="98.83" r="2.69" fill="#29798e"/><circle cx="260.04" cy="87.59" r="2.69" fill="#218e8d"/><circle cx="260.04" cy="85.12" r="2.69" fill="#20928c"/><circle cx="260.04" cy="82.65" r="2.69" fill="#1f978b"/><circle cx="260.04" cy="77.71" r="2.69" fill="#1fa088"/><circle cx="260.04" cy="93.83" r="2.69" fill="#26828e"/><circle cx="260.04" cy="71.54" r="2.69" fill="#25ab82"/><circle cx="260.04" cy="103.82" r="2.69" fill="#2d718e"/><circle cx="260.04" cy="106.31" r="2.69" fill="#2f6c8e"/><circle cx="260.04" cy="90.09" r="2.69" fill="#23898e"/><circle cx="260.04" cy="76.48" r="2.69" fill="#1fa287"/><circle cx="260.04" cy="67.83" r="2.69" fill="#2db27d"/><circle cx="260.04" cy="81.42" r="2.69" fill="#1f998a"/><circle cx="260.04" cy="74.01" r="2.69" fill="#22a785"/><circle cx="260.04" cy="61.66" r="2.69" fill="#3fbc73"/><circle cx="260.04" cy="97.58" r="2.69" fill="#287c8e"/><circle cx="260.05" cy="80.18" r="2.69" fill="#1e9c89"/><circle cx="260.05" cy="76.48" r="2.69" fill="#1fa287"/><circle cx="260.05" cy="83.89" r="2.69" fill="#1f948c"/><circle cx="260.05" cy="88.84" r="2.69" fill="#228c8d"/><circle cx="260.05" cy="107.56" r="2.69" fill="#30698e"/><circle cx="260.05" cy="118.79" r="2.69" fill="#3a538b"/><circle cx="260.05" cy="87.59" r="2.69" fill="#218e8d"/><circle cx="260.05" cy="86.36" r="2.69" fill="#21918c"/><circle cx="260.05" cy="91.34" r="2.69" fill="#24878e"/><circle cx="260.05" cy="78.95" r="2.69" fill="#1f9e89"/><circle cx="260.05" cy="106.31" r="2.69" fill="#2f6c8e"/><circle cx="260.05" cy="100.07" r="2.69" fill="#2a778e"/><circle cx="260.05" cy="60.42" r="2.69" fill="#42be71"/><circle cx="260.05" cy="83.89" r="2.69" fill="#1f948c"/><circle cx="260.05" cy="70.3" r="2.69" fill="#27ad81"/><circle cx="260.05" cy="102.57" r="2.69" fill="#2c728e"/><circle cx="260.05" cy="95.08" r="2.69" fill="#26818e"/><circle cx="260.05" cy="107.56" r="2.69" fill="#30698e"/><circle cx="260.05" cy="91.34" r="2.69" fill="#24878e"/><circle cx="260.05" cy="64.13" r="2.69" fill="#37b878"/><circle cx="260.05" cy="61.66" r="2.69" fill="#3fbc73"/><circle cx="260.05" cy="65.36" r="2.69" fill="#34b679"/><circle cx="260.05" cy="98.83" r="2.69" fill="#29798e"/><circle cx="260.05" cy="106.31" r="2.69" fill="#2f6c8e"/><circle cx="260.05" cy="82.65" r="2.69" fill="#1f978b"/><circle cx="260.05" cy="106.31" r="2.69" fill="#2f6c8e"/><circle cx="260.05" cy="69.07" r="2.69" fill="#29af7f"/><circle cx="260.05" cy="108.81" r="2.69" fill="#31678e"/><circle cx="260.05" cy="80.18" r="2.69" fill="#1e9c89"/><circle cx="260.05" cy="97.58" r="2.69" fill="#287c8e"/><circle cx="260.05" cy="53.01" r="2.69" fill="#60ca60"/><circle cx="260.05" cy="44.36" r="2.69" fill="#89d548"/><circle cx="260.05" cy="86.36" r="2.69" fill="#21918c"/><circle cx="260.05" cy="55.48" r="2.69" fill="#56c667"/><circle cx="260.05" cy="103.82" r="2.69" fill="#2d718e"/><circle cx="260.05" cy="90.09" r="2.69" fill="#23898e"/><circle cx="260.05" cy="82.65" r="2.69" fill="#1f978b"/><circle cx="260.05" cy="100.07" r="2.69" fill="#2a778e"/><circle cx="260.05" cy="81.42" r="2.69" fill="#1f998a"/><circle cx="260.05" cy="82.65" r="2.69" fill="#1f978b"/><circle cx="260.05" cy="74.01" r="2.69" fill="#22a785"/><circle cx="260.05" cy="86.36" r="2.69" fill="#21918c"/><circle cx="260.05" cy="137.52" r="2.69" fill="#482878"/><circle cx="260.05" cy="86.36" r="2.69" fill="#21918c"/><circle cx="260.05" cy="86.36" r="2.69" fill="#21918c"/><circle cx="260.06" cy="100.07" r="2.69" fill="#2a778e"/><circle cx="260.06" cy="69.07" r="2.69" fill="#29af7f"/><circle cx="260.06" cy="110.06" r="2.69" fill="#32658e"/><circle cx="260.06" cy="83.89" r="2.69" fill="#1f948c"/><circle cx="260.06" cy="62.89" r="2.69" fill="#3aba76"/><circle cx="260.06" cy="95.08" r="2.69" fill="#26818e"/><circle cx="260.06" cy="81.42" r="2.69" fill="#1f998a"/><circle cx="260.06" cy="116.3" r="2.69" fill="#38598c"/><circle cx="260.06" cy="108.81" r="2.69" fill="#31678e"/><circle cx="260.06" cy="75.24" r="2.69" fill="#20a486"/><circle cx="260.06" cy="78.95" r="2.69" fill="#1f9e89"/><circle cx="260.06" cy="75.24" r="2.69" fill="#20a486"/><circle cx="260.06" cy="82.65" r="2.69" fill="#1f978b"/><circle cx="260.06" cy="60.42" r="2.69" fill="#42be71"/><circle cx="260.06" cy="69.07" r="2.69" fill="#29af7f"/><circle cx="260.06" cy="103.82" r="2.69" fill="#2d718e"/><circle cx="260.06" cy="54.25" r="2.69" fill="#5ac864"/><circle cx="260.06" cy="100.07" r="2.69" fill="#2a778e"/><circle cx="260.06" cy="85.12" r="2.69" fill="#20928c"/><circle cx="260.06" cy="85.12" r="2.69" fill="#20928c"/><circle cx="260.06" cy="102.57" r="2.69" fill="#2c728e"/><circle cx="260.06" cy="82.65" r="2.69" fill="#1f978b"/><circle cx="260.06" cy="95.08" r="2.69" fill="#26818e"/><circle cx="260.06" cy="91.34" r="2.69" fill="#24878e"/><circle cx="260.06" cy="97.58" r="2.69" fill="#287c8e"/><circle cx="260.06" cy="87.59" r="2.69" fill="#218e8d"/><circle cx="260.06" cy="92.59" r="2.69" fill="#25848e"/><circle cx="260.06" cy="100.07" r="2.69" fill="#2a778e"/><circle cx="260.06" cy="85.12" r="2.69" fill="#20928c"/><circle cx="260.06" cy="97.58" r="2.69" fill="#287c8e"/><circle cx="260.06" cy="76.48" r="2.69" fill="#1fa287"/><circle cx="260.06" cy="107.56" r="2.69" fill="#30698e"/><circle cx="260.06" cy="70.3" r="2.69" fill="#27ad81"/><circle cx="260.06" cy="67.83" r="2.69" fill="#2db27d"/><circle cx="260.06" cy="80.18" r="2.69" fill="#1e9c89"/><circle cx="260.06" cy="67.83" r="2.69" fill="#2db27d"/><circle cx="260.06" cy="69.07" r="2.69" fill="#29af7f"/><circle cx="260.06" cy="82.65" r="2.69" fill="#1f978b"/><circle cx="260.06" cy="90.09" r="2.69" fill="#23898e"/><circle cx="260.06" cy="86.36" r="2.69" fill="#21918c"/><circle cx="260.06" cy="71.54" r="2.69" fill="#25ab82"/><circle cx="260.06" cy="97.58" r="2.69" fill="#287c8e"/><circle cx="260.06" cy="80.18" r="2.69" fill="#1e9c89"/><circle cx="260.06" cy="85.12" r="2.69" fill="#20928c"/><circle cx="260.06" cy="76.48" r="2.69" fill="#1fa287"/><circle cx="260.07" cy="61.66" r="2.69" fill="#3fbc73"/><circle cx="260.07" cy="74.01" r="2.69" fill="#22a785"/><circle cx="260.07" cy="59.19" r="2.69" fill="#48c16e"/><circle cx="260.07" cy="60.42" r="2.69" fill="#42be71"/><circle cx="260.07" cy="106.31" r="2.69" fill="#2f6c8e"/><circle cx="260.07" cy="85.12" r="2.69" fill="#20928c"/><circle cx="260.07" cy="92.59" r="2.69" fill="#25848e"/><circle cx="260.07" cy="77.71" r="2.69" fill="#1fa088"/><circle cx="260.07" cy="71.54" r="2.69" fill="#25ab82"/><circle cx="260.07" cy="66.6" r="2.69" fill="#2fb47c"/><circle cx="260.07" cy="93.83" r="2.69" fill="#26828e"/><circle cx="260.07" cy="60.42" r="2.69" fill="#42be71"/><circle cx="260.07" cy="93.83" r="2.69" fill="#26828e"/><circle cx="260.07" cy="90.09" r="2.69" fill="#23898e"/><circle cx="260.07" cy="78.95" r="2.69" fill="#1f9e89"/><circle cx="260.07" cy="93.83" r="2.69" fill="#26828e"/><circle cx="260.07" cy="53.01" r="2.69" fill="#60ca60"/><circle cx="260.07" cy="96.33" r="2.69" fill="#277e8e"/><circle cx="260.07" cy="76.48" r="2.69" fill="#1fa287"/><circle cx="260.07" cy="87.59" r="2.69" fill="#218e8d"/><circle cx="260.07" cy="88.84" r="2.69" fill="#228c8d"/><circle cx="260.07" cy="77.71" r="2.69" fill="#1fa088"/><circle cx="260.07" cy="71.54" r="2.69" fill="#25ab82"/><circle cx="260.07" cy="62.89" r="2.69" fill="#3aba76"/><circle cx="260.07" cy="88.84" r="2.69" fill="#228c8d"/><circle cx="260.07" cy="88.84" r="2.69" fill="#228c8d"/><circle cx="260.07" cy="57.95" r="2.69" fill="#4cc26c"/><circle cx="260.07" cy="83.89" r="2.69" fill="#1f948c"/><circle cx="260.07" cy="69.07" r="2.69" fill="#29af7f"/><circle cx="260.07" cy="67.83" r="2.69" fill="#2db27d"/><circle cx="260.07" cy="103.82" r="2.69" fill="#2d718e"/><circle cx="260.07" cy="90.09" r="2.69" fill="#23898e"/><circle cx="260.07" cy="74.01" r="2.69" fill="#22a785"/><circle cx="260.07" cy="80.18" r="2.69" fill="#1e9c89"/><circle cx="260.07" cy="86.36" r="2.69" fill="#21918c"/><circle cx="260.07" cy="70.3" r="2.69" fill="#27ad81"/><circle cx="260.07" cy="76.48" r="2.69" fill="#1fa287"/><circle cx="260.07" cy="102.57" r="2.69" fill="#2c728e"/><circle cx="260.07" cy="91.34" r="2.69" fill="#24878e"/><circle cx="260.07" cy="82.65" r="2.69" fill="#1f978b"/><circle cx="260.07" cy="80.18" r="2.69" fill="#1e9c89"/><circle cx="260.07" cy="86.36" r="2.69" fill="#21918c"/><circle cx="260.07" cy="70.3" r="2.69" fill="#27ad81"/><circle cx="260.07" cy="102.57" r="2.69" fill="#2c728e"/><circle cx="260.07" cy="81.42" r="2.69" fill="#1f998a"/><circle cx="260.08" cy="72.77" r="2.69" fill="#23a983"/><circle cx="260.08" cy="90.09" r="2.69" fill="#23898e"/><circle cx="260.08" cy="93.83" r="2.69" fill="#26828e"/><circle cx="260.08" cy="83.89" r="2.69" fill="#1f948c"/><circle cx="260.08" cy="103.82" r="2.69" fill="#2d718e"/><circle cx="260.08" cy="56.72" r="2.69" fill="#50c46a"/><circle cx="260.08" cy="90.09" r="2.69" fill="#23898e"/><circle cx="260.08" cy="95.08" r="2.69" fill="#26818e"/><circle cx="260.08" cy="71.54" r="2.69" fill="#25ab82"/><circle cx="260.08" cy="72.77" r="2.69" fill="#23a983"/><circle cx="260.08" cy="108.81" r="2.69" fill="#31678e"/><circle cx="260.08" cy="98.83" r="2.69" fill="#29798e"/><circle cx="260.08" cy="80.18" r="2.69" fill="#1e9c89"/><circle cx="260.08" cy="113.8" r="2.69" fill="#365d8d"/><circle cx="260.08" cy="92.59" r="2.69" fill="#25848e"/><circle cx="260.08" cy="87.59" r="2.69" fill="#218e8d"/><circle cx="260.08" cy="101.32" r="2.69" fill="#2b758e"/><circle cx="260.08" cy="97.58" r="2.69" fill="#287c8e"/><circle cx="260.08" cy="80.18" r="2.69" fill="#1e9c89"/><circle cx="260.08" cy="92.59" r="2.69" fill="#25848e"/><circle cx="260.08" cy="74.01" r="2.69" fill="#22a785"/><circle cx="260.08" cy="101.32" r="2.69" fill="#2b758e"/><circle cx="260.08" cy="115.05" r="2.69" fill="#375b8d"/><circle cx="260.08" cy="100.07" r="2.69" fill="#2a778e"/><circle cx="260.08" cy="91.34" r="2.69" fill="#24878e"/><circle cx="260.08" cy="87.59" r="2.69" fill="#218e8d"/><circle cx="260.08" cy="65.36" r="2.69" fill="#34b679"/><circle cx="260.08" cy="96.33" r="2.69" fill="#277e8e"/><circle cx="260.08" cy="82.65" r="2.69" fill="#1f978b"/><circle cx="260.08" cy="70.3" r="2.69" fill="#27ad81"/><circle cx="260.08" cy="91.34" r="2.69" fill="#24878e"/><circle cx="260.08" cy="72.77" r="2.69" fill="#23a983"/><circle cx="260.08" cy="80.18" r="2.69" fill="#1e9c89"/><circle cx="260.08" cy="66.6" r="2.69" fill="#2fb47c"/><circle cx="260.08" cy="113.8" r="2.69" fill="#365d8d"/><circle cx="260.08" cy="82.65" r="2.69" fill="#1f978b"/><circle cx="260.08" cy="112.55" r="2.69" fill="#34608d"/><circle cx="260.08" cy="88.84" r="2.69" fill="#228c8d"/><circle cx="260.08" cy="76.48" r="2.69" fill="#1fa287"/><circle cx="260.08" cy="74.01" r="2.69" fill="#22a785"/><circle cx="260.08" cy="88.84" r="2.69" fill="#228c8d"/><circle cx="260.08" cy="61.66" r="2.69" fill="#3fbc73"/><circle cx="260.08" cy="76.48" r="2.69" fill="#1fa287"/><circle cx="260.08" cy="92.59" r="2.69" fill="#25848e"/><circle cx="260.08" cy="85.12" r="2.69" fill="#20928c"/><circle cx="260.08" cy="100.07" r="2.69" fill="#2a778e"/><circle cx="260.09" cy="101.32" r="2.69" fill="#2b758e"/><circle cx="260.09" cy="77.71" r="2.69" fill="#1fa088"/><circle cx="260.09" cy="90.09" r="2.69" fill="#23898e"/><circle cx="260.09" cy="82.65" r="2.69" fill="#1f978b"/><circle cx="260.09" cy="64.13" r="2.69" fill="#37b878"/><circle cx="260.09" cy="95.08" r="2.69" fill="#26818e"/><circle cx="260.09" cy="85.12" r="2.69" fill="#20928c"/><circle cx="260.09" cy="85.12" r="2.69" fill="#20928c"/><circle cx="260.09" cy="81.42" r="2.69" fill="#1f998a"/><circle cx="260.09" cy="105.07" r="2.69" fill="#2e6e8e"/><circle cx="260.09" cy="48.07" r="2.69" fill="#75d054"/><circle cx="260.09" cy="95.08" r="2.69" fill="#26818e"/><circle cx="260.09" cy="88.84" r="2.69" fill="#228c8d"/><circle cx="260.09" cy="105.07" r="2.69" fill="#2e6e8e"/><circle cx="260.09" cy="67.83" r="2.69" fill="#2db27d"/><circle cx="260.09" cy="76.48" r="2.69" fill="#1fa287"/><circle cx="260.09" cy="88.84" r="2.69" fill="#228c8d"/><circle cx="260.09" cy="86.36" r="2.69" fill="#21918c"/><circle cx="260.09" cy="78.95" r="2.69" fill="#1f9e89"/><circle cx="260.09" cy="96.33" r="2.69" fill="#277e8e"/><circle cx="260.09" cy="86.36" r="2.69" fill="#21918c"/><circle cx="260.09" cy="92.59" r="2.69" fill="#25848e"/><circle cx="260.09" cy="72.77" r="2.69" fill="#23a983"/><circle cx="260.09" cy="87.59" r="2.69" fill="#218e8d"/><circle cx="260.09" cy="78.95" r="2.69" fill="#1f9e89"/><circle cx="260.09" cy="87.59" r="2.69" fill="#218e8d"/><circle cx="260.09" cy="88.84" r="2.69" fill="#228c8d"/><circle cx="260.09" cy="106.31" r="2.69" fill="#2f6c8e"/><circle cx="260.09" cy="86.36" r="2.69" fill="#21918c"/><circle cx="260.09" cy="74.01" r="2.69" fill="#22a785"/><circle cx="260.09" cy="87.59" r="2.69" fill="#218e8d"/><circle cx="260.09" cy="88.84" r="2.69" fill="#228c8d"/><circle cx="260.09" cy="82.65" r="2.69" fill="#1f978b"/><circle cx="260.09" cy="85.12" r="2.69" fill="#20928c"/><circle cx="260.09" cy="59.19" r="2.69" fill="#48c16e"/><circle cx="260.09" cy="90.09" r="2.69" fill="#23898e"/><circle cx="260.09" cy="71.54" r="2.69" fill="#25ab82"/><circle cx="260.09" cy="97.58" r="2.69" fill="#287c8e"/><circle cx="260.09" cy="85.12" r="2.69" fill="#20928c"/><circle cx="260.09" cy="95.08" r="2.69" fill="#26818e"/><circle cx="260.09" cy="102.57" r="2.69" fill="#2c728e"/><circle cx="260.09" cy="102.57" r="2.69" fill="#2c728e"/><circle cx="260.09" cy="78.95" r="2.69" fill="#1f9e89"/><circle cx="260.09" cy="122.54" r="2.69" fill="#3e4a89"/><circle cx="260.09" cy="92.59" r="2.69" fill="#25848e"/><circle cx="260.1" cy="82.65" r="2.69" fill="#1f978b"/><circle cx="260.1" cy="87.59" r="2.69" fill="#218e8d"/><circle cx="260.1" cy="77.71" r="2.69" fill="#1fa088"/><circle cx="260.1" cy="86.36" r="2.69" fill="#21918c"/><circle cx="260.1" cy="80.18" r="2.69" fill="#1e9c89"/><circle cx="260.1" cy="98.83" r="2.69" fill="#29798e"/><circle cx="260.1" cy="60.42" r="2.69" fill="#42be71"/><circle cx="260.1" cy="72.77" r="2.69" fill="#23a983"/><circle cx="260.1" cy="86.36" r="2.69" fill="#21918c"/><circle cx="260.1" cy="78.95" r="2.69" fill="#1f9e89"/><circle cx="260.1" cy="71.54" r="2.69" fill="#25ab82"/><circle cx="260.1" cy="112.55" r="2.69" fill="#34608d"/><circle cx="260.1" cy="74.01" r="2.69" fill="#22a785"/><circle cx="260.1" cy="74.01" r="2.69" fill="#22a785"/><circle cx="260.1" cy="83.89" r="2.69" fill="#1f948c"/><circle cx="260.1" cy="108.81" r="2.69" fill="#31678e"/><circle cx="260.1" cy="82.65" r="2.69" fill="#1f978b"/><circle cx="260.1" cy="96.33" r="2.69" fill="#277e8e"/><circle cx="260.1" cy="55.48" r="2.69" fill="#56c667"/><circle cx="260.1" cy="105.07" r="2.69" fill="#2e6e8e"/><circle cx="260.1" cy="87.59" r="2.69" fill="#218e8d"/><circle cx="260.1" cy="46.83" r="2.69" fill="#7cd250"/><circle cx="260.1" cy="101.32" r="2.69" fill="#2b758e"/><circle cx="260.1" cy="82.65" r="2.69" fill="#1f978b"/><circle cx="260.1" cy="67.83" r="2.69" fill="#2db27d"/><circle cx="260.1" cy="57.95" r="2.69" fill="#4cc26c"/><circle cx="260.1" cy="106.31" r="2.69" fill="#2f6c8e"/><circle cx="260.1" cy="83.89" r="2.69" fill="#1f948c"/><circle cx="260.1" cy="69.07" r="2.69" fill="#29af7f"/><circle cx="260.1" cy="118.79" r="2.69" fill="#3a538b"/><circle cx="260.1" cy="88.84" r="2.69" fill="#228c8d"/><circle cx="260.1" cy="66.6" r="2.69" fill="#2fb47c"/><circle cx="260.1" cy="86.36" r="2.69" fill="#21918c"/><circle cx="260.1" cy="88.84" r="2.69" fill="#228c8d"/><circle cx="260.1" cy="97.58" r="2.69" fill="#287c8e"/><circle cx="260.1" cy="77.71" r="2.69" fill="#1fa088"/><circle cx="260.1" cy="91.34" r="2.69" fill="#24878e"/><circle cx="260.1" cy="87.59" r="2.69" fill="#218e8d"/><circle cx="260.1" cy="77.71" r="2.69" fill="#1fa088"/><circle cx="260.1" cy="87.59" r="2.69" fill="#218e8d"/><circle cx="260.1" cy="105.07" r="2.69" fill="#2e6e8e"/><circle cx="260.1" cy="90.09" r="2.69" fill="#23898e"/><circle cx="260.1" cy="90.09" r="2.69" fill="#23898e"/><circle cx="260.1" cy="90.09" r="2.69" fill="#23898e"/><circle cx="260.1" cy="96.33" r="2.69" fill="#277e8e"/><circle cx="260.11" cy="96.33" r="2.69" fill="#277e8e"/><circle cx="260.11" cy="87.59" r="2.69" fill="#218e8d"/><circle cx="260.11" cy="77.71" r="2.69" fill="#1fa088"/><circle cx="260.11" cy="86.36" r="2.69" fill="#21918c"/><circle cx="260.11" cy="56.72" r="2.69" fill="#50c46a"/><circle cx="260.11" cy="93.83" r="2.69" fill="#26828e"/><circle cx="260.11" cy="82.65" r="2.69" fill="#1f978b"/><circle cx="260.11" cy="101.32" r="2.69" fill="#2b758e"/><circle cx="260.11" cy="95.08" r="2.69" fill="#26818e"/><circle cx="260.11" cy="67.83" r="2.69" fill="#2db27d"/><circle cx="260.11" cy="76.48" r="2.69" fill="#1fa287"/><circle cx="260.11" cy="90.09" r="2.69" fill="#23898e"/><circle cx="260.11" cy="86.36" r="2.69" fill="#21918c"/><circle cx="260.11" cy="108.81" r="2.69" fill="#31678e"/><circle cx="260.11" cy="97.58" r="2.69" fill="#287c8e"/><circle cx="260.11" cy="71.54" r="2.69" fill="#25ab82"/><circle cx="260.11" cy="78.95" r="2.69" fill="#1f9e89"/><circle cx="260.11" cy="92.59" r="2.69" fill="#25848e"/><circle cx="260.11" cy="92.59" r="2.69" fill="#25848e"/><circle cx="260.11" cy="101.32" r="2.69" fill="#2b758e"/><circle cx="260.11" cy="95.08" r="2.69" fill="#26818e"/><circle cx="260.11" cy="74.01" r="2.69" fill="#22a785"/><circle cx="260.11" cy="78.95" r="2.69" fill="#1f9e89"/><circle cx="260.11" cy="78.95" r="2.69" fill="#1f9e89"/><circle cx="260.11" cy="78.95" r="2.69" fill="#1f9e89"/><circle cx="260.11" cy="85.12" r="2.69" fill="#20928c"/><circle cx="260.11" cy="76.48" r="2.69" fill="#1fa287"/><circle cx="260.11" cy="98.83" r="2.69" fill="#29798e"/><circle cx="260.11" cy="88.84" r="2.69" fill="#228c8d"/><circle cx="260.11" cy="101.32" r="2.69" fill="#2b758e"/><circle cx="260.11" cy="110.06" r="2.69" fill="#32658e"/><circle cx="260.11" cy="80.18" r="2.69" fill="#1e9c89"/><circle cx="260.11" cy="96.33" r="2.69" fill="#277e8e"/><circle cx="260.11" cy="95.08" r="2.69" fill="#26818e"/><circle cx="260.11" cy="72.77" r="2.69" fill="#23a983"/><circle cx="260.11" cy="83.89" r="2.69" fill="#1f948c"/><circle cx="260.11" cy="108.81" r="2.69" fill="#31678e"/><circle cx="260.11" cy="115.05" r="2.69" fill="#375b8d"/><circle cx="260.11" cy="110.06" r="2.69" fill="#32658e"/><circle cx="260.11" cy="93.83" r="2.69" fill="#26828e"/><circle cx="260.11" cy="67.83" r="2.69" fill="#2db27d"/><circle cx="260.11" cy="97.58" r="2.69" fill="#287c8e"/><circle cx="260.11" cy="100.07" r="2.69" fill="#2a778e"/><circle cx="260.11" cy="81.42" r="2.69" fill="#1f998a"/><circle cx="260.11" cy="100.07" r="2.69" fill="#2a778e"/><circle cx="260.12" cy="81.42" r="2.69" fill="#1f998a"/><circle cx="260.12" cy="98.83" r="2.69" fill="#29798e"/><circle cx="260.12" cy="90.09" r="2.69" fill="#23898e"/><circle cx="260.12" cy="74.01" r="2.69" fill="#22a785"/><circle cx="260.12" cy="95.08" r="2.69" fill="#26818e"/><circle cx="260.12" cy="77.71" r="2.69" fill="#1fa088"/><circle cx="260.12" cy="103.82" r="2.69" fill="#2d718e"/><circle cx="260.12" cy="91.34" r="2.69" fill="#24878e"/><circle cx="260.12" cy="54.25" r="2.69" fill="#5ac864"/><circle cx="260.12" cy="86.36" r="2.69" fill="#21918c"/><circle cx="260.12" cy="87.59" r="2.69" fill="#218e8d"/><circle cx="260.12" cy="65.36" r="2.69" fill="#34b679"/><circle cx="260.12" cy="65.36" r="2.69" fill="#34b679"/><circle cx="260.12" cy="69.07" r="2.69" fill="#29af7f"/><circle cx="260.12" cy="87.59" r="2.69" fill="#218e8d"/><circle cx="260.12" cy="90.09" r="2.69" fill="#23898e"/><circle cx="260.12" cy="102.57" r="2.69" fill="#2c728e"/><circle cx="260.12" cy="71.54" r="2.69" fill="#25ab82"/><circle cx="260.12" cy="86.36" r="2.69" fill="#21918c"/><circle cx="260.12" cy="112.55" r="2.69" fill="#34608d"/><circle cx="260.12" cy="97.58" r="2.69" fill="#287c8e"/><circle cx="260.12" cy="82.65" r="2.69" fill="#1f978b"/><circle cx="260.12" cy="66.6" r="2.69" fill="#2fb47c"/><circle cx="260.12" cy="74.01" r="2.69" fill="#22a785"/><circle cx="260.12" cy="88.84" r="2.69" fill="#228c8d"/><circle cx="260.12" cy="90.09" r="2.69" fill="#23898e"/><circle cx="260.12" cy="71.54" r="2.69" fill="#25ab82"/><circle cx="260.12" cy="101.32" r="2.69" fill="#2b758e"/><circle cx="260.12" cy="81.42" r="2.69" fill="#1f998a"/><circle cx="260.12" cy="90.09" r="2.69" fill="#23898e"/><circle cx="260.12" cy="91.34" r="2.69" fill="#24878e"/><circle cx="260.12" cy="95.08" r="2.69" fill="#26818e"/><circle cx="260.12" cy="91.34" r="2.69" fill="#24878e"/><circle cx="260.12" cy="86.36" r="2.69" fill="#21918c"/><circle cx="260.12" cy="59.19" r="2.69" fill="#48c16e"/><circle cx="260.12" cy="85.12" r="2.69" fill="#20928c"/><circle cx="260.12" cy="53.01" r="2.69" fill="#60ca60"/><circle cx="260.12" cy="80.18" r="2.69" fill="#1e9c89"/><circle cx="260.12" cy="62.89" r="2.69" fill="#3aba76"/><circle cx="260.12" cy="96.33" r="2.69" fill="#277e8e"/><circle cx="260.12" cy="101.32" r="2.69" fill="#2b758e"/><circle cx="260.12" cy="78.95" r="2.69" fill="#1f9e89"/><circle cx="260.12" cy="81.42" r="2.69" fill="#1f998a"/><circle cx="260.12" cy="80.18" r="2.69" fill="#1e9c89"/><circle cx="260.12" cy="97.58" r="2.69" fill="#287c8e"/><circle cx="260.13" cy="95.08" r="2.69" fill="#26818e"/><circle cx="260.13" cy="86.36" r="2.69" fill="#21918c"/><circle cx="260.13" cy="96.33" r="2.69" fill="#277e8e"/><circle cx="260.13" cy="90.09" r="2.69" fill="#23898e"/><circle cx="260.13" cy="107.56" r="2.69" fill="#30698e"/><circle cx="260.13" cy="113.8" r="2.69" fill="#365d8d"/><circle cx="260.13" cy="88.84" r="2.69" fill="#228c8d"/><circle cx="260.13" cy="71.54" r="2.69" fill="#25ab82"/><circle cx="260.13" cy="96.33" r="2.69" fill="#277e8e"/><circle cx="260.13" cy="88.84" r="2.69" fill="#228c8d"/></g>
<rect x="35.98" y="36" width="226.83" height="1" fill="#000" fill-opacity="0.014"/>
<rect x="35.98" y="39" width="226.83" height="1" fill="#000" fill-opacity="0.107"/>
<rect x="35.98" y="40" width="226.83" height="1" fill="#000" fill-opacity="0.157"/>
<rect x="35.98" y="41" width="226.83" height="1" fill="#000" fill-opacity="0.201"/>
<rect x="35.98" y="42" width="226.83" height="1" fill="#000" fill-opacity="0.198"/>
<rect x="35.98" y="132" width="226.83" height="1" fill="#000" fill-opacity="0.048"/>
<rect x="35.98" y="133" width="226.83" height="1" fill="#000" fill-opacity="0.146"/>
<rect x="35.98" y="134" width="226.83" height="1" fill="#000" fill-opacity="0.157"/>
<rect x="35.98" y="135" width="226.83" height="1" fill="#000" fill-opacity="0.113"/>
<rect x="35.98" y="136" width="226.83" height="1" fill="#000" fill-opacity="0.046"/>
<line x1="27.6" y1="87.59" x2="271.2" y2="87.59" stroke="#ff0000" stroke-width="1.215" stroke-dasharray="4.49 1.94"/>
<rect x="286.1" y="10.9" width="8" height="150.7" fill="url(#cbar)"/>
<rect x="380.1" y="10.9" width="305.2" height="150.7" fill="#eaeaf2"/>
<line x1="384.25" y1="10.9" x2="384.25" y2="161.6" stroke="#fff" stroke-width="0.75"/>
<line x1="436.46" y1="10.9" x2="436.46" y2="161.6" stroke="#fff" stroke-width="0.75"/>
<line x1="488.67" y1="10.9" x2="488.67" y2="161.6" stroke="#fff" stroke-width="0.75"/>
<line x1="540.89" y1="10.9" x2="540.89" y2="161.6" stroke="#fff" stroke-width="0.75"/>
<line x1="593.1" y1="10.9" x2="593.1" y2="161.6" stroke="#fff" stroke-width="0.75"/>
<line x1="645.31" y1="10.9" x2="645.31" y2="161.6" stroke="#fff" stroke-width="0.75"/>
<line x1="380.1" y1="161.6" x2="685.3" y2="161.6" stroke="#fff" stroke-width="0.75"/>
<line x1="380.1" y1="132.74" x2="685.3" y2="132.74" stroke="#fff" stroke-width="0.75"/>
<line x1="380.1" y1="103.87" x2="685.3" y2="103.87" stroke="#fff" stroke-width="0.75"/>
<line x1="380.1" y1="75.01" x2="685.3" y2="75.01" stroke="#fff" stroke-width="0.75"/>
<line x1="380.1" y1="46.14" x2="685.3" y2="46.14" stroke="#fff" stroke-width="0.75"/>
<line x1="380.1" y1="17.28" x2="685.3" y2="17.28" stroke="#fff" stroke-width="0.75"/>
<g fill="#87ceeb" fill-opacity="0.5" stroke="#fff" stroke-opacity="0.5" stroke-width="0.5"><rect x="394.69" y="161.58" width="18.45" height="0.02"/><rect x="413.14" y="161.37" width="18.45" height="0.23"/><rect x="431.59" y="159.83" width="18.45" height="1.77"/><rect x="450.04" y="152.66" width="18.45" height="8.94"/><rect x="468.49" y="130.78" width="18.45" height="30.82"/><rect x="486.93" y="87.54" width="18.45" height="74.06"/><rect x="505.38" y="39.38" width="18.45" height="122.22"/><rect x="523.83" y="21.8" width="18.45" height="139.8"/><rect x="542.28" y="51.61" width="18.45" height="109.99"/><rect x="560.73" y="101.49" width="18.45" height="60.11"/><rect x="579.17" y="139.15" width="18.45" height="22.45"/><rect x="597.62" y="155.88" width="18.45" height="5.72"/><rect x="616.07" y="160.57" width="18.45" height="1.03"/><rect x="634.52" y="161.48" width="18.45" height="0.12"/><rect x="652.97" y="161.59" width="18.45" height="0.01"/></g>
<polyline points="394.69,161.6 395.85,161.6 397.01,161.6 398.17,161.59 399.32,161.59 400.48,161.59 401.64,161.59 402.8,161.59 403.96,161.58 405.11,161.58 406.27,161.58 407.43,161.57 408.59,161.57 409.74,161.56 410.9,161.56 412.06,161.55 413.22,161.55 414.38,161.54 415.53,161.53 416.69,161.51 417.85,161.5 419.01,161.48 420.16,161.46 421.32,161.44 422.48,161.42 423.64,161.4 424.8,161.37 425.95,161.34 427.11,161.29 428.27,161.24 429.43,161.19 430.59,161.14 431.74,161.08 432.9,160.98 434.06,160.87 435.22,160.74 436.37,160.62 437.53,160.5 438.69,160.39 439.85,160.27 441.01,160.14 442.16,159.98 443.32,159.77 444.48,159.53 445.64,159.27 446.8,158.96 447.95,158.62 449.11,158.24 450.27,157.84 451.43,157.4 452.58,156.94 453.74,156.46 454.9,155.94 456.06,155.4 457.22,154.81 458.37,154.16 459.53,153.45 460.69,152.66 461.85,151.79 463,150.85 464.16,149.86 465.32,148.8 466.48,147.66 467.64,146.45 468.79,145.17 469.95,143.81 471.11,142.38 472.27,140.87 473.43,139.26 474.58,137.52 475.74,135.6 476.9,133.53 478.06,131.39 479.21,129.26 480.37,127.1 481.53,124.85 482.69,122.49 483.85,120.11 485,117.69 486.16,115.11 487.32,112.29 488.48,109.23 489.64,106.06 490.79,102.87 491.95,99.78 493.11,96.8 494.27,93.83 495.42,90.77 496.58,87.47 497.74,83.95 498.9,80.31 500.06,76.77 501.21,73.27 502.37,69.75 503.53,66.23 504.69,62.88 505.84,59.75 507,56.69 508.16,53.64 509.32,50.54 510.48,47.52 511.63,44.6 512.79,41.83 513.95,39.15 515.11,36.48 516.27,33.87 517.42,31.41 518.58,29.27 519.74,27.29 520.9,25.46 522.05,23.8 523.21,22.51 524.37,21.52 525.53,20.55 526.69,19.57 527.84,18.74 529,18.32 530.16,18.13 531.32,18.08 532.48,18.12 533.63,18.48 534.79,19.23 535.95,20.3 537.11,21.6 538.26,22.91 539.42,24.27 540.58,25.81 541.74,27.85 542.9,30.27 544.05,32.81 545.21,35.33 546.37,37.78 547.53,40.28 548.69,42.85 549.84,45.65 551,48.67 552.16,51.94 553.32,55.34 554.47,58.71 555.63,61.97 556.79,65.08 557.95,68.18 559.11,71.34 560.26,74.72 561.42,78.16 562.58,81.55 563.74,84.91 564.89,88.33 566.05,91.82 567.21,95.14 568.37,98.25 569.53,101.22 570.68,104.23 571.84,107.26 573,110.27 574.16,113.19 575.32,115.98 576.47,118.66 577.63,121.25 578.79,123.77 579.95,126.17 581.1,128.43 582.26,130.58 583.42,132.66 584.58,134.66 585.74,136.52 586.89,138.23 588.05,139.87 589.21,141.48 590.37,143.02 591.53,144.46 592.68,145.81 593.84,147.12 595,148.37 596.16,149.51 597.31,150.54 598.47,151.5 599.63,152.41 600.79,153.26 601.95,154 603.1,154.66 604.26,155.25 605.42,155.81 606.58,156.39 607.73,156.96 608.89,157.48 610.05,157.9 611.21,158.24 612.37,158.53 613.52,158.8 614.68,159.08 615.84,159.36 617,159.61 618.16,159.84 619.31,160.04 620.47,160.22 621.63,160.36 622.79,160.47 623.94,160.56 625.1,160.66 626.26,160.78 627.42,160.91 628.58,161.02 629.73,161.11 630.89,161.18 632.05,161.24 633.21,161.3 634.37,161.34 635.52,161.38 636.68,161.4 637.84,161.42 639,161.43 640.15,161.45 641.31,161.46 642.47,161.48 643.63,161.49 644.79,161.5 645.94,161.51 647.1,161.53 648.26,161.54 649.42,161.56 650.57,161.56 651.73,161.57 652.89,161.57 654.05,161.58 655.21,161.58 656.36,161.59 657.52,161.59 658.68,161.59 659.84,161.59 661,161.59 662.15,161.59 663.31,161.59 664.47,161.6 665.63,161.6 666.78,161.6 667.94,161.6 669.1,161.6 670.26,161.6 671.42,161.6" fill="none" stroke="#87ceeb" stroke-width="1.45"/>
<line x1="530" y1="161.4" x2="530" y2="10.9" stroke="#ff0000" stroke-width="1.215" stroke-dasharray="1.23 2.025"/>
<line x1="619.4" y1="19.5" x2="633.3" y2="19.5" stroke="#ff0000" stroke-width="1.215" stroke-dasharray="1.23 2.025"/>
<rect x="380.1" y="206.9" width="305.2" height="150.8" fill="#eaeaf2"/>
<line x1="384.3" y1="206.9" x2="384.3" y2="357.7" stroke="#fff" stroke-width="0.75"/>
<line x1="436.51" y1="206.9" x2="436.51" y2="357.7" stroke="#fff" stroke-width="0.75"/>
<line x1="488.72" y1="206.9" x2="488.72" y2="357.7" stroke="#fff" stroke-width="0.75"/>
<line x1="540.94" y1="206.9" x2="540.94" y2="357.7" stroke="#fff" stroke-width="0.75"/>
<line x1="593.15" y1="206.9" x2="593.15" y2="357.7" stroke="#fff" stroke-width="0.75"/>
<line x1="645.36" y1="206.9" x2="645.36" y2="357.7" stroke="#fff" stroke-width="0.75"/>
<line x1="446.95" y1="282.3" x2="509.61" y2="282.3" stroke="#4c4c4c" stroke-width="1.2"/>
<line x1="551.38" y1="282.3" x2="614.03" y2="282.3" stroke="#4c4c4c" stroke-width="1.2"/>
<line x1="446.95" y1="267.15" x2="446.95" y2="297.45" stroke="#4c4c4c" stroke-width="1.2"/>
<line x1="614.03" y1="267.15" x2="614.03" y2="297.45" stroke="#4c4c4c" stroke-width="1.2"/>
<rect x="509.61" y="252" width="41.77" height="60.6" fill="#5875a4" stroke="#4c4c4c" stroke-width="1.2"/>
<line x1="530.49" y1="252" x2="530.49" y2="312.6" stroke="#4c4c4c" stroke-width="1.2"/>
<g fill="#4c4c4c" stroke="#4c4c4c" stroke-width="0.8" stroke-linejoin="miter"><path d="M394.74 280.05L396.29 282.3L394.74 284.55L393.19 282.3Z"/><path d="M397.35 280.05L398.9 282.3L397.35 284.55L395.8 282.3Z"/><path d="M399.96 280.05L401.51 282.3L399.96 284.55L398.41 282.3Z"/><path d="M402.57 280.05L404.12 282.3L402.57 284.55L401.02 282.3Z"/><path d="M405.18 280.05L406.73 282.3L405.18 284.55L403.63 282.3Z"/><path d="M407.8 280.05L409.35 282.3L407.8 284.55L406.25 282.3Z"/><path d="M410.41 280.05L411.96 282.3L410.41 284.55L408.86 282.3Z"/><path d="M413.02 280.05L414.57 282.3L413.02 284.55L411.47 282.3Z"/><path d="M415.63 280.05L417.18 282.3L415.63 284.55L414.08 282.3Z"/><path d="M418.24 280.05L419.79 282.3L418.24 284.55L416.69 282.3Z"/><path d="M420.85 280.05L422.4 282.3L420.85 284.55L419.3 282.3Z"/><path d="M423.46 280.05L425.01 282.3L423.46 284.55L421.91 282.3Z"/><path d="M426.07 280.05L427.62 282.3L426.07 284.55L424.52 282.3Z"/><path d="M428.68 280.05L430.23 282.3L428.68 284.55L427.13 282.3Z"/><path d="M431.29 280.05L432.84 282.3L431.29 284.55L429.74 282.3Z"/><path d="M433.9 280.05L435.45 282.3L433.9 284.55L432.35 282.3Z"/><path d="M436.51 280.05L438.06 282.3L436.51 284.55L434.96 282.3Z"/><path d="M439.12 280.05L440.67 282.3L439.12 284.55L437.57 282.3Z"/><path d="M441.73 280.05L443.28 282.3L441.73 284.55L440.18 282.3Z"/><path d="M444.34 280.05L445.89 282.3L444.34 284.55L442.79 282.3Z"/><path d="M616.64 280.05L618.19 282.3L616.64 284.55L615.09 282.3Z"/><path d="M619.25 280.05L620.8 282.3L619.25 284.55L617.7 282.3Z"/><path d="M621.86 280.05L623.41 282.3L621.86 284.55L620.31 282.3Z"/><path d="M624.48 280.05L626.03 282.3L624.48 284.55L622.93 282.3Z"/><path d="M627.09 280.05L628.64 282.3L627.09 284.55L625.54 282.3Z"/><path d="M629.7 280.05L631.25 282.3L629.7 284.55L628.15 282.3Z"/><path d="M632.31 280.05L633.86 282.3L632.31 284.55L630.76 282.3Z"/><path d="M634.92 280.05L636.47 282.3L634.92 284.55L633.37 282.3Z"/><path d="M637.53 280.05L639.08 282.3L637.53 284.55L635.98 282.3Z"/><path d="M640.14 280.05L641.69 282.3L640.14 284.55L638.59 282.3Z"/><path d="M642.75 280.05L644.3 282.3L642.75 284.55L641.2 282.3Z"/><path d="M645.36 280.05L646.91 282.3L645.36 284.55L643.81 282.3Z"/><path d="M647.97 280.05L649.52 282.3L647.97 284.55L646.42 282.3Z"/><path d="M650.58 280.05L652.13 282.3L650.58 284.55L649.03 282.3Z"/><path d="M653.19 280.05L654.74 282.3L653.19 284.55L651.64 282.3Z"/><path d="M655.8 280.05L657.35 282.3L655.8 284.55L654.25 282.3Z"/><path d="M658.41 280.05L659.96 282.3L658.41 284.55L656.86 282.3Z"/><path d="M661.02 280.05L662.57 282.3L661.02 284.55L659.47 282.3Z"/><path d="M666.24 280.05L667.79 282.3L666.24 284.55L664.69 282.3Z"/><path d="M671.47 280.05L673.02 282.3L671.47 284.55L669.92 282.3Z"/></g>
<g font-family="Liberation Sans, sans-serif" fill="#262626" filter="url(#tb)"><text x="149.4" y="6.8" font-size="8.48" text-anchor="middle">CPHDSD Hamming Distance Distribution Analysis</text><text x="22.1" y="162.67" font-size="6.94" text-anchor="end">200</text><text x="22.1" y="136.8" font-size="6.94" text-anchor="end">220</text><text x="22.1" y="110.94" font-size="6.94" text-anchor="end">240</text><text x="22.1" y="85.07" font-size="6.94" text-anchor="end">260</text><text x="22.1" y="59.2" font-size="6.94" text-anchor="end">280</text><text x="22.1" y="33.34" font-size="6.94" text-anchor="end">300</text><text x="38.67" y="171.6" font-size="6.94" text-anchor="middle">0.0</text><text x="82.96" y="171.6" font-size="6.94" text-anchor="middle">0.2</text><text x="127.25" y="171.6" font-size="6.94" text-anchor="middle">0.4</text><text x="171.55" y="171.6" font-size="6.94" text-anchor="middle">0.6</text><text x="215.84" y="171.6" font-size="6.94" text-anchor="middle">0.8</text><text x="260.13" y="171.6" font-size="6.94" text-anchor="middle">1.0</text><text x="271.2" y="180" font-size="6.94" text-anchor="end">1e6</text><text x="149.4" y="180.6" font-size="7.7" text-anchor="middle">Sample Index</text><text x="5.5" y="86.3" font-size="7.7" text-anchor="middle" transform="rotate(-90 5.5 86.3)">Hamming Distance (bits)</text><text x="299" y="141.75" font-size="6.94" text-anchor="start">220</text><text x="299" y="113.32" font-size="6.94" text-anchor="start">240</text><text x="299" y="84.88" font-size="6.94" text-anchor="start">260</text><text x="299" y="56.45" font-size="6.94" text-anchor="start">280</text><text x="299" y="28.02" font-size="6.94" text-anchor="start">300</text><text x="318.7" y="86.25" font-size="7.7" text-anchor="middle" transform="rotate(-90 318.7 86.25)">Hamming Distance Value</text><text x="640.5" y="22.2" font-size="6.94" text-anchor="start">Actual Mean</text><text x="384.25" y="171.6" font-size="6.94" text-anchor="middle">200</text><text x="436.46" y="171.6" font-size="6.94" text-anchor="middle">220</text><text x="488.67" y="171.6" font-size="6.94" text-anchor="middle">240</text><text x="540.89" y="171.6" font-size="6.94" text-anchor="middle">260</text><text x="593.1" y="171.6" font-size="6.94" text-anchor="middle">280</text><text x="645.31" y="171.6" font-size="6.94" text-anchor="middle">300</text><text x="375.9" y="164.55" font-size="6.94" text-anchor="end">0</text><text x="375.9" y="135.69" font-size="6.94" text-anchor="end">50000</text><text x="375.9" y="106.82" font-size="6.94" text-anchor="end">100000</text><text x="375.9" y="77.96" font-size="6.94" text-anchor="end">150000</text><text x="375.9" y="49.09" font-size="6.94" text-anchor="end">200000</text><text x="375.9" y="20.23" font-size="6.94" text-anchor="end">250000</text><text x="532.7" y="180.9" font-size="7.7" text-anchor="middle">Hamming Distance</text><text x="347.2" y="87.25" font-size="7.7" text-anchor="middle" transform="rotate(-90 347.2 87.25)">Frequency</text><text x="532.7" y="202.8" font-size="8.48" text-anchor="middle">Distribution Spread</text><text x="384.3" y="367.9" font-size="6.94" text-anchor="middle">200</text><text x="436.51" y="367.9" font-size="6.94" text-anchor="middle">220</text><text x="488.72" y="367.9" font-size="6.94" text-anchor="middle">240</text><text x="540.94" y="367.9" font-size="6.94" text-anchor="middle">260</text><text x="593.15" y="367.9" font-size="6.94" text-anchor="middle">280</text><text x="645.36" y="367.9" font-size="6.94" text-anchor="middle">300</text><text x="532.7" y="377.4" font-size="7.7" text-anchor="middle">Hamming Distance</text><text x="42.4" y="259.9" font-size="7.08" text-anchor="start" font-family="Liberation Mono, monospace">Theoretical Expectations:</text><text x="42.4" y="268.05" font-size="7.08" text-anchor="start" font-family="Liberation Mono, monospace">μ = 256.0 ± 11.3</text><text x="42.4" y="284.35" font-size="7.08" text-anchor="start" font-family="Liberation Mono, monospace">Actual Results:</text><text x="42.4" y="292.5" font-size="7.08" text-anchor="start" font-family="Liberation Mono, monospace">μ = 256.0 ± 11.3</text><text x="42.4" y="300.65" font-size="7.08" text-anchor="start" font-family="Liberation Mono, monospace">Min = 204</text><text x="42.4" y="308.8" font-size="7.08" text-anchor="start" font-family="Liberation Mono, monospace">Max = 310</text></g>
</svg>
</body></html>
